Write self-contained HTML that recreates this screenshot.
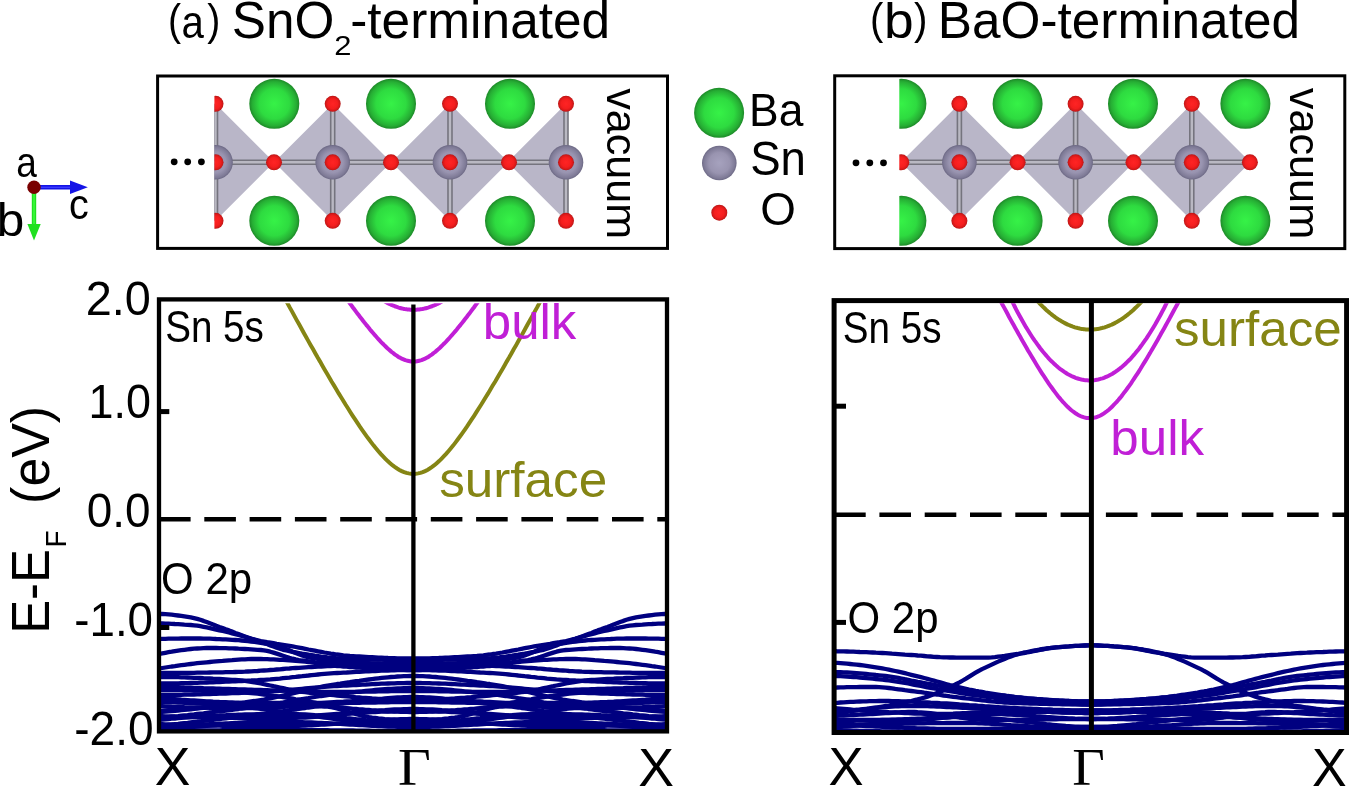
<!DOCTYPE html><html><head><meta charset="utf-8"><style>html,body{margin:0;padding:0;background:#fff;overflow:hidden}svg{display:block;will-change:transform}</style></head><body><svg width="1349" height="786" viewBox="0 0 1349 786"><defs>
<radialGradient id="gBa" cx="50%" cy="50%" r="50%"><stop offset="0" stop-color="#36f247"/><stop offset="0.6" stop-color="#2edb40"/><stop offset="0.88" stop-color="#26ae34"/><stop offset="1" stop-color="#1d8a28"/></radialGradient>
<radialGradient id="gSn" cx="50%" cy="50%" r="50%"><stop offset="0" stop-color="#a6a2be"/><stop offset="0.6" stop-color="#9994b0"/><stop offset="0.9" stop-color="#7e7a96"/><stop offset="1" stop-color="#6c6884"/></radialGradient>
<radialGradient id="gO" cx="50%" cy="50%" r="50%"><stop offset="0" stop-color="#ff2424"/><stop offset="0.6" stop-color="#f41e1e"/><stop offset="0.9" stop-color="#d01818"/><stop offset="1" stop-color="#b01212"/></radialGradient>
<clipPath id="clipA"><rect x="214.4" y="77" width="452" height="170"/></clipPath>
<clipPath id="clipB"><rect x="899.3" y="77" width="444" height="170"/></clipPath>
<clipPath id="plotL"><rect x="160" y="302" width="506" height="428"/></clipPath>
<clipPath id="plotR"><rect x="836" y="303" width="510" height="428"/></clipPath>
<clipPath id="plotLc"><rect x="150" y="303.3" width="520" height="430"/></clipPath>
<clipPath id="plotRc"><rect x="830" y="303.3" width="520" height="430"/></clipPath>
</defs>
<text x="168.05" y="34.77" font-family="Liberation Sans, sans-serif" font-size="44.92" textLength="13.07" lengthAdjust="spacingAndGlyphs" >(</text>
<text x="181.39" y="38.30" font-family="Liberation Sans, sans-serif" font-size="46.30" textLength="22.35" lengthAdjust="spacingAndGlyphs" >a</text>
<text x="207.20" y="34.77" font-family="Liberation Sans, sans-serif" font-size="44.92" textLength="13.07" lengthAdjust="spacingAndGlyphs" >)</text>
<text x="231.79" y="38.30" font-family="Liberation Sans, sans-serif" font-size="51.30" textLength="102.57" lengthAdjust="spacingAndGlyphs" >SnO</text>
<text x="334.15" y="55.20" font-family="Liberation Sans, sans-serif" font-size="27.00" textLength="17.24" lengthAdjust="spacingAndGlyphs" >2</text>
<text x="350.19" y="38.30" font-family="Liberation Sans, sans-serif" font-size="51.30" textLength="260.00" lengthAdjust="spacingAndGlyphs" >-terminated</text>
<text x="870.10" y="34.21" font-family="Liberation Sans, sans-serif" font-size="44.71" textLength="13.32" lengthAdjust="spacingAndGlyphs" >(</text>
<text x="884.13" y="38.30" font-family="Liberation Sans, sans-serif" font-size="50.34" textLength="29.66" lengthAdjust="spacingAndGlyphs" >b</text>
<text x="914.10" y="34.21" font-family="Liberation Sans, sans-serif" font-size="44.71" textLength="13.45" lengthAdjust="spacingAndGlyphs" >)</text>
<text x="937.80" y="38.30" font-family="Liberation Sans, sans-serif" font-size="51.30" textLength="362.18" lengthAdjust="spacingAndGlyphs" >BaO-terminated</text>
<rect x="157.6" y="76" width="509.9" height="172.4" fill="none" stroke="#000" stroke-width="3"/>
<rect x="834.7" y="75.8" width="510.1" height="172.8" fill="none" stroke="#000" stroke-width="3"/>
<g clip-path="url(#clipA)">
<polygon points="215.5,103.8 157.0,162.3 215.5,220.8 274.0,162.3" fill="#b9b6c8"/>
<polygon points="332.7,103.8 274.2,162.3 332.7,220.8 391.2,162.3" fill="#b9b6c8"/>
<polygon points="450,103.8 391.5,162.3 450,220.8 508.5,162.3" fill="#b9b6c8"/>
<polygon points="566,103.8 507.5,162.3 566,220.8" fill="#b9b6c8"/>
<line x1="215.5" y1="103.8" x2="215.5" y2="220.8" stroke="#75747e" stroke-width="5.6"/><line x1="215.5" y1="103.8" x2="215.5" y2="220.8" stroke="#b9b8c2" stroke-width="2.4"/>
<line x1="157.0" y1="162.3" x2="274.0" y2="162.3" stroke="#75747e" stroke-width="5.6"/><line x1="157.0" y1="162.3" x2="274.0" y2="162.3" stroke="#b9b8c2" stroke-width="2.4"/>
<line x1="332.7" y1="103.8" x2="332.7" y2="220.8" stroke="#75747e" stroke-width="5.6"/><line x1="332.7" y1="103.8" x2="332.7" y2="220.8" stroke="#b9b8c2" stroke-width="2.4"/>
<line x1="274.2" y1="162.3" x2="391.2" y2="162.3" stroke="#75747e" stroke-width="5.6"/><line x1="274.2" y1="162.3" x2="391.2" y2="162.3" stroke="#b9b8c2" stroke-width="2.4"/>
<line x1="450" y1="103.8" x2="450" y2="220.8" stroke="#75747e" stroke-width="5.6"/><line x1="450" y1="103.8" x2="450" y2="220.8" stroke="#b9b8c2" stroke-width="2.4"/>
<line x1="391.5" y1="162.3" x2="508.5" y2="162.3" stroke="#75747e" stroke-width="5.6"/><line x1="391.5" y1="162.3" x2="508.5" y2="162.3" stroke="#b9b8c2" stroke-width="2.4"/>
<line x1="566" y1="103.8" x2="566" y2="220.8" stroke="#75747e" stroke-width="5.6"/><line x1="566" y1="103.8" x2="566" y2="220.8" stroke="#b9b8c2" stroke-width="2.4"/>
<line x1="507.5" y1="162.3" x2="566" y2="162.3" stroke="#75747e" stroke-width="5.6"/><line x1="507.5" y1="162.3" x2="566" y2="162.3" stroke="#b9b8c2" stroke-width="2.4"/>
<circle cx="274.3" cy="103.8" r="25.0" fill="url(#gBa)"/>
<circle cx="274.3" cy="220.8" r="25.0" fill="url(#gBa)"/>
<circle cx="391.0" cy="103.8" r="25.0" fill="url(#gBa)"/>
<circle cx="391.0" cy="220.8" r="25.0" fill="url(#gBa)"/>
<circle cx="510.0" cy="103.8" r="25.0" fill="url(#gBa)"/>
<circle cx="510.0" cy="220.8" r="25.0" fill="url(#gBa)"/>
<circle cx="274.0" cy="162.3" r="8.0" fill="url(#gO)"/>
<circle cx="391.0" cy="162.3" r="8.0" fill="url(#gO)"/>
<circle cx="509.0" cy="162.3" r="8.0" fill="url(#gO)"/>
<circle cx="215.5" cy="103.8" r="8.0" fill="url(#gO)"/>
<circle cx="215.5" cy="220.8" r="8.0" fill="url(#gO)"/>
<circle cx="215.5" cy="162.3" r="17.3" fill="url(#gSn)"/>
<circle cx="215.5" cy="162.3" r="8.0" fill="url(#gO)"/>
<circle cx="332.7" cy="103.8" r="8.0" fill="url(#gO)"/>
<circle cx="332.7" cy="220.8" r="8.0" fill="url(#gO)"/>
<circle cx="332.7" cy="162.3" r="17.3" fill="url(#gSn)"/>
<circle cx="332.7" cy="162.3" r="8.0" fill="url(#gO)"/>
<circle cx="450.0" cy="103.8" r="8.0" fill="url(#gO)"/>
<circle cx="450.0" cy="220.8" r="8.0" fill="url(#gO)"/>
<circle cx="450.0" cy="162.3" r="17.3" fill="url(#gSn)"/>
<circle cx="450.0" cy="162.3" r="8.0" fill="url(#gO)"/>
<circle cx="566.0" cy="103.8" r="8.0" fill="url(#gO)"/>
<circle cx="566.0" cy="220.8" r="8.0" fill="url(#gO)"/>
<circle cx="566.0" cy="162.3" r="17.3" fill="url(#gSn)"/>
<circle cx="566.0" cy="162.3" r="8.0" fill="url(#gO)"/>
</g>
<g clip-path="url(#clipB)">
<polygon points="959.4,103.8 900.9,162.3 959.4,220.8 1017.9,162.3" fill="#b9b6c8"/>
<polygon points="1075.6,103.8 1017.0999999999999,162.3 1075.6,220.8 1134.1,162.3" fill="#b9b6c8"/>
<polygon points="1191.8,103.8 1133.3,162.3 1191.8,220.8 1250.3,162.3" fill="#b9b6c8"/>
<line x1="959.4" y1="103.8" x2="959.4" y2="220.8" stroke="#75747e" stroke-width="5.6"/><line x1="959.4" y1="103.8" x2="959.4" y2="220.8" stroke="#b9b8c2" stroke-width="2.4"/>
<line x1="900.9" y1="162.3" x2="1017.9" y2="162.3" stroke="#75747e" stroke-width="5.6"/><line x1="900.9" y1="162.3" x2="1017.9" y2="162.3" stroke="#b9b8c2" stroke-width="2.4"/>
<line x1="1075.6" y1="103.8" x2="1075.6" y2="220.8" stroke="#75747e" stroke-width="5.6"/><line x1="1075.6" y1="103.8" x2="1075.6" y2="220.8" stroke="#b9b8c2" stroke-width="2.4"/>
<line x1="1017.0999999999999" y1="162.3" x2="1134.1" y2="162.3" stroke="#75747e" stroke-width="5.6"/><line x1="1017.0999999999999" y1="162.3" x2="1134.1" y2="162.3" stroke="#b9b8c2" stroke-width="2.4"/>
<line x1="1191.8" y1="103.8" x2="1191.8" y2="220.8" stroke="#75747e" stroke-width="5.6"/><line x1="1191.8" y1="103.8" x2="1191.8" y2="220.8" stroke="#b9b8c2" stroke-width="2.4"/>
<line x1="1133.3" y1="162.3" x2="1250.3" y2="162.3" stroke="#75747e" stroke-width="5.6"/><line x1="1133.3" y1="162.3" x2="1250.3" y2="162.3" stroke="#b9b8c2" stroke-width="2.4"/>
<circle cx="901.4" cy="103.8" r="25.0" fill="url(#gBa)"/>
<circle cx="901.4" cy="220.8" r="25.0" fill="url(#gBa)"/>
<circle cx="1017.6" cy="103.8" r="25.0" fill="url(#gBa)"/>
<circle cx="1017.6" cy="220.8" r="25.0" fill="url(#gBa)"/>
<circle cx="1133.0" cy="103.8" r="25.0" fill="url(#gBa)"/>
<circle cx="1133.0" cy="220.8" r="25.0" fill="url(#gBa)"/>
<circle cx="1245.4" cy="103.8" r="25.0" fill="url(#gBa)"/>
<circle cx="1245.4" cy="220.8" r="25.0" fill="url(#gBa)"/>
<circle cx="901.3" cy="162.3" r="8.0" fill="url(#gO)"/>
<circle cx="1017.6" cy="162.3" r="8.0" fill="url(#gO)"/>
<circle cx="1133.5" cy="162.3" r="8.0" fill="url(#gO)"/>
<circle cx="1249.9" cy="162.3" r="8.0" fill="url(#gO)"/>
<circle cx="959.4" cy="103.8" r="8.0" fill="url(#gO)"/>
<circle cx="959.4" cy="220.8" r="8.0" fill="url(#gO)"/>
<circle cx="959.4" cy="162.3" r="17.3" fill="url(#gSn)"/>
<circle cx="959.4" cy="162.3" r="8.0" fill="url(#gO)"/>
<circle cx="1075.6" cy="103.8" r="8.0" fill="url(#gO)"/>
<circle cx="1075.6" cy="220.8" r="8.0" fill="url(#gO)"/>
<circle cx="1075.6" cy="162.3" r="17.3" fill="url(#gSn)"/>
<circle cx="1075.6" cy="162.3" r="8.0" fill="url(#gO)"/>
<circle cx="1191.8" cy="103.8" r="8.0" fill="url(#gO)"/>
<circle cx="1191.8" cy="220.8" r="8.0" fill="url(#gO)"/>
<circle cx="1191.8" cy="162.3" r="17.3" fill="url(#gSn)"/>
<circle cx="1191.8" cy="162.3" r="8.0" fill="url(#gO)"/>
</g>
<circle cx="174.2" cy="161.8" r="3.4" fill="#000"/>
<circle cx="187.7" cy="161.8" r="3.4" fill="#000"/>
<circle cx="201.4" cy="161.8" r="3.4" fill="#000"/>
<circle cx="856" cy="162.8" r="3.4" fill="#000"/>
<circle cx="869.8" cy="162.8" r="3.4" fill="#000"/>
<circle cx="883.5" cy="162.8" r="3.4" fill="#000"/>
<g transform="rotate(90)"><text x="88.18" y="-606.60" font-family="Liberation Sans, sans-serif" font-size="42.78" textLength="150.97" lengthAdjust="spacingAndGlyphs" >vacuum</text></g>
<g transform="rotate(90)"><text x="87.78" y="-1289.60" font-family="Liberation Sans, sans-serif" font-size="42.78" textLength="151.38" lengthAdjust="spacingAndGlyphs" >vacuum</text></g>
<circle cx="719.1" cy="112.8" r="25.0" fill="url(#gBa)"/>
<circle cx="719.3" cy="163.0" r="17.3" fill="url(#gSn)"/>
<circle cx="719.3" cy="212.7" r="8.0" fill="url(#gO)"/>
<text x="749.05" y="126.00" font-family="Liberation Sans, sans-serif" font-size="46.96" textLength="54.29" lengthAdjust="spacingAndGlyphs" >Ba</text>
<text x="750.15" y="175.40" font-family="Liberation Sans, sans-serif" font-size="47.43" textLength="55.76" lengthAdjust="spacingAndGlyphs" >Sn</text>
<text x="760.14" y="225.40" font-family="Liberation Sans, sans-serif" font-size="46.57" textLength="35.65" lengthAdjust="spacingAndGlyphs" >O</text>
<line x1="34" y1="187.3" x2="72" y2="187.3" stroke="#1414e6" stroke-width="4.4"/>
<line x1="40" y1="187.3" x2="72" y2="187.3" stroke="#3a3aff" stroke-width="1.4"/>
<polygon points="70,180.6 87.8,187.3 70,194" fill="#1414e6"/>
<line x1="34" y1="187.3" x2="34" y2="226" stroke="#20e020" stroke-width="4.4"/>
<line x1="34" y1="192" x2="34" y2="226" stroke="#40ff40" stroke-width="1.4"/>
<polygon points="27.4,223.9 40.7,223.9 34,240.4" fill="#20e020"/>
<circle cx="34" cy="187.3" r="6.7" fill="#7a0000"/>
<text x="16.32" y="176.80" font-family="Liberation Sans, sans-serif" font-size="42.41" textLength="20.63" lengthAdjust="spacingAndGlyphs" >a</text>
<text x="-3.22" y="235.60" font-family="Liberation Sans, sans-serif" font-size="46.07" textLength="27.56" lengthAdjust="spacingAndGlyphs" >b</text>
<text x="69.02" y="219.00" font-family="Liberation Sans, sans-serif" font-size="42.04" textLength="19.77" lengthAdjust="spacingAndGlyphs" >c</text>
<g clip-path="url(#plotL)" fill="none" stroke-linejoin="round">
<path d="M159.0,614.0 L162.2,614.0 L165.4,614.2 L168.5,614.4 L171.7,614.7 L174.9,615.1 L178.1,615.5 L181.3,615.9 L184.4,616.4 L187.6,616.9 L190.8,617.4 L194.0,618.1 L197.2,618.9 L200.3,619.8 L203.5,620.9 L206.7,622.1 L209.9,623.3 L213.1,624.5 L216.2,625.8 L219.4,627.0 L222.6,628.1 L225.8,629.3 L229.0,630.4 L232.1,631.6 L235.3,632.9 L238.5,634.1 L241.7,635.3 L244.9,636.5 L248.0,637.6 L251.2,638.6 L254.4,639.5 L257.6,640.3 L260.8,641.0 L263.9,641.6 L267.1,642.2 L270.3,642.7 L273.5,643.2 L276.7,643.8 L279.8,644.3 L283.0,644.8 L286.2,645.3 L289.4,645.8 L292.6,646.4 L295.7,647.0 L298.9,647.6 L302.1,648.2 L305.3,648.8 L308.5,649.5 L311.6,650.1 L314.8,650.7 L318.0,651.3 L321.2,651.9 L324.4,652.5 L327.5,653.0 L330.7,653.6 L333.9,654.0 L337.1,654.5 L340.3,654.9 L343.4,655.3 L346.6,655.6 L349.8,655.9 L353.0,656.1 L356.2,656.3 L359.3,656.5 L362.5,656.7 L365.7,656.9 L368.9,657.1 L372.1,657.2 L375.2,657.4 L378.4,657.6 L381.6,657.7 L384.8,657.8 L388.0,658.0 L391.1,658.1 L394.3,658.2 L397.5,658.3 L400.7,658.4 L403.9,658.4 L407.0,658.5 L410.2,658.5 L413.4,658.5 L416.6,658.5 L419.8,658.5 L422.9,658.4 L426.1,658.4 L429.3,658.3 L432.5,658.2 L435.7,658.1 L438.8,658.0 L442.0,657.8 L445.2,657.7 L448.4,657.6 L451.6,657.4 L454.7,657.2 L457.9,657.1 L461.1,656.9 L464.3,656.7 L467.5,656.5 L470.6,656.3 L473.8,656.1 L477.0,655.9 L480.2,655.6 L483.4,655.3 L486.5,654.9 L489.7,654.5 L492.9,654.0 L496.1,653.6 L499.3,653.0 L502.4,652.5 L505.6,651.9 L508.8,651.3 L512.0,650.7 L515.2,650.1 L518.3,649.5 L521.5,648.8 L524.7,648.2 L527.9,647.6 L531.1,647.0 L534.2,646.4 L537.4,645.8 L540.6,645.3 L543.8,644.8 L547.0,644.3 L550.1,643.8 L553.3,643.2 L556.5,642.7 L559.7,642.2 L562.9,641.6 L566.0,641.0 L569.2,640.3 L572.4,639.5 L575.6,638.6 L578.8,637.6 L581.9,636.5 L585.1,635.3 L588.3,634.1 L591.5,632.9 L594.7,631.6 L597.8,630.4 L601.0,629.3 L604.2,628.1 L607.4,627.0 L610.6,625.8 L613.7,624.5 L616.9,623.3 L620.1,622.1 L623.3,620.9 L626.5,619.8 L629.6,618.9 L632.8,618.1 L636.0,617.4 L639.2,616.9 L642.4,616.4 L645.5,615.9 L648.7,615.5 L651.9,615.1 L655.1,614.7 L658.3,614.4 L661.4,614.2 L664.6,614.0 L667.8,614.0" stroke="#000080" stroke-width="4.3"/>
<path d="M159.0,623.5 L162.2,623.5 L165.4,623.6 L168.5,623.7 L171.7,623.8 L174.9,624.0 L178.1,624.1 L181.3,624.3 L184.4,624.6 L187.6,624.8 L190.8,625.0 L194.0,625.3 L197.2,625.7 L200.3,626.2 L203.5,626.8 L206.7,627.4 L209.9,628.1 L213.1,628.8 L216.2,629.6 L219.4,630.3 L222.6,631.0 L225.8,631.7 L229.0,632.5 L232.1,633.3 L235.3,634.1 L238.5,635.0 L241.7,635.9 L244.9,636.8 L248.0,637.7 L251.2,638.7 L254.4,639.6 L257.6,640.6 L260.8,641.7 L263.9,642.9 L267.1,644.1 L270.3,645.4 L273.5,646.6 L276.7,647.8 L279.8,648.8 L283.0,649.8 L286.2,650.5 L289.4,651.1 L292.6,651.8 L295.7,652.4 L298.9,653.0 L302.1,653.6 L305.3,654.1 L308.5,654.7 L311.6,655.2 L314.8,655.7 L318.0,656.1 L321.2,656.6 L324.4,657.0 L327.5,657.4 L330.7,657.7 L333.9,658.0 L337.1,658.3 L340.3,658.5 L343.4,658.7 L346.6,658.9 L349.8,659.0 L353.0,659.1 L356.2,659.2 L359.3,659.3 L362.5,659.3 L365.7,659.4 L368.9,659.5 L372.1,659.5 L375.2,659.6 L378.4,659.7 L381.6,659.7 L384.8,659.8 L388.0,659.8 L391.1,659.9 L394.3,659.9 L397.5,659.9 L400.7,660.0 L403.9,660.0 L407.0,660.0 L410.2,660.0 L413.4,660.0 L416.6,660.0 L419.8,660.0 L422.9,660.0 L426.1,660.0 L429.3,659.9 L432.5,659.9 L435.7,659.9 L438.8,659.8 L442.0,659.8 L445.2,659.7 L448.4,659.7 L451.6,659.6 L454.7,659.5 L457.9,659.5 L461.1,659.4 L464.3,659.3 L467.5,659.3 L470.6,659.2 L473.8,659.1 L477.0,659.0 L480.2,658.9 L483.4,658.7 L486.5,658.5 L489.7,658.3 L492.9,658.0 L496.1,657.7 L499.3,657.4 L502.4,657.0 L505.6,656.6 L508.8,656.1 L512.0,655.7 L515.2,655.2 L518.3,654.7 L521.5,654.1 L524.7,653.6 L527.9,653.0 L531.1,652.4 L534.2,651.8 L537.4,651.1 L540.6,650.5 L543.8,649.8 L547.0,648.8 L550.1,647.8 L553.3,646.6 L556.5,645.4 L559.7,644.1 L562.9,642.9 L566.0,641.7 L569.2,640.6 L572.4,639.6 L575.6,638.7 L578.8,637.7 L581.9,636.8 L585.1,635.9 L588.3,635.0 L591.5,634.1 L594.7,633.3 L597.8,632.5 L601.0,631.7 L604.2,631.0 L607.4,630.3 L610.6,629.6 L613.7,628.8 L616.9,628.1 L620.1,627.4 L623.3,626.8 L626.5,626.2 L629.6,625.7 L632.8,625.3 L636.0,625.0 L639.2,624.8 L642.4,624.6 L645.5,624.3 L648.7,624.1 L651.9,624.0 L655.1,623.8 L658.3,623.7 L661.4,623.6 L664.6,623.5 L667.8,623.5" stroke="#000080" stroke-width="4.3"/>
<path d="M159.0,639.0 L162.2,638.9 L165.4,638.8 L168.5,638.7 L171.7,638.6 L174.9,638.6 L178.1,638.6 L181.3,638.5 L184.4,638.5 L187.6,638.5 L190.8,638.5 L194.0,638.5 L197.2,638.5 L200.3,638.5 L203.5,638.6 L206.7,638.6 L209.9,638.7 L213.1,638.8 L216.2,639.0 L219.4,639.1 L222.6,639.3 L225.8,639.4 L229.0,639.6 L232.1,639.8 L235.3,640.0 L238.5,640.2 L241.7,640.5 L244.9,640.8 L248.0,641.1 L251.2,641.5 L254.4,641.9 L257.6,642.3 L260.8,642.8 L263.9,643.3 L267.1,643.8 L270.3,644.4 L273.5,645.0 L276.7,645.7 L279.8,646.7 L283.0,647.8 L286.2,649.0 L289.4,650.3 L292.6,651.7 L295.7,653.0 L298.9,654.3 L302.1,655.5 L305.3,656.5 L308.5,657.4 L311.6,658.0 L314.8,658.5 L318.0,659.0 L321.2,659.4 L324.4,659.8 L327.5,660.2 L330.7,660.6 L333.9,661.0 L337.1,661.3 L340.3,661.6 L343.4,661.9 L346.6,662.1 L349.8,662.4 L353.0,662.6 L356.2,662.7 L359.3,662.9 L362.5,663.0 L365.7,663.1 L368.9,663.2 L372.1,663.3 L375.2,663.4 L378.4,663.5 L381.6,663.6 L384.8,663.6 L388.0,663.7 L391.1,663.8 L394.3,663.8 L397.5,663.9 L400.7,663.9 L403.9,664.0 L407.0,664.0 L410.2,664.0 L413.4,664.0 L416.6,664.0 L419.8,664.0 L422.9,664.0 L426.1,663.9 L429.3,663.9 L432.5,663.8 L435.7,663.8 L438.8,663.7 L442.0,663.6 L445.2,663.6 L448.4,663.5 L451.6,663.4 L454.7,663.3 L457.9,663.2 L461.1,663.1 L464.3,663.0 L467.5,662.9 L470.6,662.7 L473.8,662.6 L477.0,662.4 L480.2,662.1 L483.4,661.9 L486.5,661.6 L489.7,661.3 L492.9,661.0 L496.1,660.6 L499.3,660.2 L502.4,659.8 L505.6,659.4 L508.8,659.0 L512.0,658.5 L515.2,658.0 L518.3,657.4 L521.5,656.5 L524.7,655.5 L527.9,654.3 L531.1,653.0 L534.2,651.7 L537.4,650.3 L540.6,649.0 L543.8,647.8 L547.0,646.7 L550.1,645.7 L553.3,645.0 L556.5,644.4 L559.7,643.8 L562.9,643.3 L566.0,642.8 L569.2,642.3 L572.4,641.9 L575.6,641.5 L578.8,641.1 L581.9,640.8 L585.1,640.5 L588.3,640.2 L591.5,640.0 L594.7,639.8 L597.8,639.6 L601.0,639.4 L604.2,639.3 L607.4,639.1 L610.6,639.0 L613.7,638.8 L616.9,638.7 L620.1,638.6 L623.3,638.6 L626.5,638.5 L629.6,638.5 L632.8,638.5 L636.0,638.5 L639.2,638.5 L642.4,638.5 L645.5,638.5 L648.7,638.6 L651.9,638.6 L655.1,638.6 L658.3,638.7 L661.4,638.8 L664.6,638.9 L667.8,639.0" stroke="#000080" stroke-width="4.3"/>
<path d="M159.0,654.0 L162.2,653.4 L165.4,652.8 L168.5,652.2 L171.7,651.7 L174.9,651.1 L178.1,650.6 L181.3,650.2 L184.4,649.8 L187.6,649.4 L190.8,649.0 L194.0,648.7 L197.2,648.5 L200.3,648.3 L203.5,648.1 L206.7,648.0 L209.9,648.0 L213.1,648.0 L216.2,648.0 L219.4,648.1 L222.6,648.1 L225.8,648.2 L229.0,648.3 L232.1,648.4 L235.3,648.5 L238.5,648.7 L241.7,648.8 L244.9,649.0 L248.0,649.2 L251.2,649.4 L254.4,649.6 L257.6,649.8 L260.8,650.0 L263.9,650.3 L267.1,650.9 L270.3,651.7 L273.5,652.6 L276.7,653.6 L279.8,654.6 L283.0,655.7 L286.2,656.8 L289.4,657.8 L292.6,658.7 L295.7,659.4 L298.9,660.0 L302.1,660.5 L305.3,660.9 L308.5,661.3 L311.6,661.7 L314.8,662.1 L318.0,662.4 L321.2,662.7 L324.4,663.0 L327.5,663.3 L330.7,663.6 L333.9,663.8 L337.1,664.0 L340.3,664.2 L343.4,664.4 L346.6,664.6 L349.8,664.8 L353.0,664.9 L356.2,665.1 L359.3,665.3 L362.5,665.5 L365.7,665.6 L368.9,665.8 L372.1,665.9 L375.2,666.1 L378.4,666.2 L381.6,666.3 L384.8,666.5 L388.0,666.6 L391.1,666.7 L394.3,666.7 L397.5,666.8 L400.7,666.9 L403.9,666.9 L407.0,667.0 L410.2,667.0 L413.4,667.0 L416.6,667.0 L419.8,667.0 L422.9,666.9 L426.1,666.9 L429.3,666.8 L432.5,666.7 L435.7,666.7 L438.8,666.6 L442.0,666.5 L445.2,666.3 L448.4,666.2 L451.6,666.1 L454.7,665.9 L457.9,665.8 L461.1,665.6 L464.3,665.5 L467.5,665.3 L470.6,665.1 L473.8,664.9 L477.0,664.8 L480.2,664.6 L483.4,664.4 L486.5,664.2 L489.7,664.0 L492.9,663.8 L496.1,663.6 L499.3,663.3 L502.4,663.0 L505.6,662.7 L508.8,662.4 L512.0,662.1 L515.2,661.7 L518.3,661.3 L521.5,660.9 L524.7,660.5 L527.9,660.0 L531.1,659.4 L534.2,658.7 L537.4,657.8 L540.6,656.8 L543.8,655.7 L547.0,654.6 L550.1,653.6 L553.3,652.6 L556.5,651.7 L559.7,650.9 L562.9,650.3 L566.0,650.0 L569.2,649.8 L572.4,649.6 L575.6,649.4 L578.8,649.2 L581.9,649.0 L585.1,648.8 L588.3,648.7 L591.5,648.5 L594.7,648.4 L597.8,648.3 L601.0,648.2 L604.2,648.1 L607.4,648.1 L610.6,648.0 L613.7,648.0 L616.9,648.0 L620.1,648.0 L623.3,648.1 L626.5,648.3 L629.6,648.5 L632.8,648.7 L636.0,649.0 L639.2,649.4 L642.4,649.8 L645.5,650.2 L648.7,650.6 L651.9,651.1 L655.1,651.7 L658.3,652.2 L661.4,652.8 L664.6,653.4 L667.8,654.0" stroke="#000080" stroke-width="4.3"/>
<path d="M159.0,668.5 L162.2,668.0 L165.4,667.5 L168.5,667.0 L171.7,666.5 L174.9,666.1 L178.1,665.6 L181.3,665.2 L184.4,664.8 L187.6,664.4 L190.8,664.0 L194.0,663.6 L197.2,663.2 L200.3,662.9 L203.5,662.6 L206.7,662.3 L209.9,662.0 L213.1,661.7 L216.2,661.4 L219.4,661.1 L222.6,660.9 L225.8,660.6 L229.0,660.3 L232.1,660.1 L235.3,659.8 L238.5,659.6 L241.7,659.4 L244.9,659.3 L248.0,659.1 L251.2,659.0 L254.4,659.0 L257.6,659.0 L260.8,659.0 L263.9,659.1 L267.1,659.2 L270.3,659.3 L273.5,659.4 L276.7,659.6 L279.8,659.8 L283.0,659.9 L286.2,660.1 L289.4,660.4 L292.6,660.6 L295.7,660.8 L298.9,661.0 L302.1,661.3 L305.3,661.6 L308.5,662.0 L311.6,662.5 L314.8,663.0 L318.0,663.5 L321.2,664.0 L324.4,664.5 L327.5,664.9 L330.7,665.3 L333.9,665.7 L337.1,666.0 L340.3,666.2 L343.4,666.5 L346.6,666.7 L349.8,667.0 L353.0,667.2 L356.2,667.5 L359.3,667.7 L362.5,667.9 L365.7,668.1 L368.9,668.4 L372.1,668.6 L375.2,668.8 L378.4,668.9 L381.6,669.1 L384.8,669.3 L388.0,669.4 L391.1,669.5 L394.3,669.7 L397.5,669.8 L400.7,669.8 L403.9,669.9 L407.0,670.0 L410.2,670.0 L413.4,670.0 L416.6,670.0 L419.8,670.0 L422.9,669.9 L426.1,669.8 L429.3,669.8 L432.5,669.7 L435.7,669.5 L438.8,669.4 L442.0,669.3 L445.2,669.1 L448.4,668.9 L451.6,668.8 L454.7,668.6 L457.9,668.4 L461.1,668.1 L464.3,667.9 L467.5,667.7 L470.6,667.5 L473.8,667.2 L477.0,667.0 L480.2,666.7 L483.4,666.5 L486.5,666.2 L489.7,666.0 L492.9,665.7 L496.1,665.3 L499.3,664.9 L502.4,664.5 L505.6,664.0 L508.8,663.5 L512.0,663.0 L515.2,662.5 L518.3,662.0 L521.5,661.6 L524.7,661.3 L527.9,661.0 L531.1,660.8 L534.2,660.6 L537.4,660.4 L540.6,660.1 L543.8,659.9 L547.0,659.8 L550.1,659.6 L553.3,659.4 L556.5,659.3 L559.7,659.2 L562.9,659.1 L566.0,659.0 L569.2,659.0 L572.4,659.0 L575.6,659.0 L578.8,659.1 L581.9,659.3 L585.1,659.4 L588.3,659.6 L591.5,659.8 L594.7,660.1 L597.8,660.3 L601.0,660.6 L604.2,660.9 L607.4,661.1 L610.6,661.4 L613.7,661.7 L616.9,662.0 L620.1,662.3 L623.3,662.6 L626.5,662.9 L629.6,663.2 L632.8,663.6 L636.0,664.0 L639.2,664.4 L642.4,664.8 L645.5,665.2 L648.7,665.6 L651.9,666.1 L655.1,666.5 L658.3,667.0 L661.4,667.5 L664.6,668.0 L667.8,668.5" stroke="#000080" stroke-width="4.3"/>
<path d="M159.0,673.0 L162.2,673.0 L165.4,673.0 L168.5,673.0 L171.7,673.0 L174.9,672.9 L178.1,672.9 L181.3,672.9 L184.4,672.9 L187.6,672.8 L190.8,672.8 L194.0,672.8 L197.2,672.7 L200.3,672.7 L203.5,672.6 L206.7,672.6 L209.9,672.5 L213.1,672.4 L216.2,672.4 L219.4,672.3 L222.6,672.3 L225.8,672.2 L229.0,672.1 L232.1,672.1 L235.3,672.0 L238.5,671.9 L241.7,671.8 L244.9,671.7 L248.0,671.5 L251.2,671.4 L254.4,671.2 L257.6,671.0 L260.8,670.7 L263.9,670.5 L267.1,670.3 L270.3,670.0 L273.5,669.8 L276.7,669.5 L279.8,669.3 L283.0,669.0 L286.2,668.7 L289.4,668.5 L292.6,668.2 L295.7,668.0 L298.9,667.8 L302.1,667.6 L305.3,667.4 L308.5,667.2 L311.6,667.0 L314.8,666.8 L318.0,666.7 L321.2,666.5 L324.4,666.3 L327.5,666.2 L330.7,666.0 L333.9,665.8 L337.1,665.7 L340.3,665.5 L343.4,665.3 L346.6,665.2 L349.8,665.0 L353.0,664.8 L356.2,664.7 L359.3,664.5 L362.5,664.4 L365.7,664.2 L368.9,664.1 L372.1,663.9 L375.2,663.8 L378.4,663.7 L381.6,663.6 L384.8,663.5 L388.0,663.4 L391.1,663.3 L394.3,663.2 L397.5,663.2 L400.7,663.1 L403.9,663.1 L407.0,663.0 L410.2,663.0 L413.4,663.0 L416.6,663.0 L419.8,663.0 L422.9,663.1 L426.1,663.1 L429.3,663.2 L432.5,663.2 L435.7,663.3 L438.8,663.4 L442.0,663.5 L445.2,663.6 L448.4,663.7 L451.6,663.8 L454.7,663.9 L457.9,664.1 L461.1,664.2 L464.3,664.4 L467.5,664.5 L470.6,664.7 L473.8,664.8 L477.0,665.0 L480.2,665.2 L483.4,665.3 L486.5,665.5 L489.7,665.7 L492.9,665.8 L496.1,666.0 L499.3,666.2 L502.4,666.3 L505.6,666.5 L508.8,666.7 L512.0,666.8 L515.2,667.0 L518.3,667.2 L521.5,667.4 L524.7,667.6 L527.9,667.8 L531.1,668.0 L534.2,668.2 L537.4,668.5 L540.6,668.7 L543.8,669.0 L547.0,669.3 L550.1,669.5 L553.3,669.8 L556.5,670.0 L559.7,670.3 L562.9,670.5 L566.0,670.7 L569.2,671.0 L572.4,671.2 L575.6,671.4 L578.8,671.5 L581.9,671.7 L585.1,671.8 L588.3,671.9 L591.5,672.0 L594.7,672.1 L597.8,672.1 L601.0,672.2 L604.2,672.3 L607.4,672.3 L610.6,672.4 L613.7,672.4 L616.9,672.5 L620.1,672.6 L623.3,672.6 L626.5,672.7 L629.6,672.7 L632.8,672.8 L636.0,672.8 L639.2,672.8 L642.4,672.9 L645.5,672.9 L648.7,672.9 L651.9,672.9 L655.1,673.0 L658.3,673.0 L661.4,673.0 L664.6,673.0 L667.8,673.0" stroke="#000080" stroke-width="4.3"/>
<path d="M159.0,683.5 L162.2,683.5 L165.4,683.5 L168.5,683.4 L171.7,683.4 L174.9,683.4 L178.1,683.3 L181.3,683.2 L184.4,683.2 L187.6,683.1 L190.8,683.0 L194.0,682.9 L197.2,682.8 L200.3,682.7 L203.5,682.6 L206.7,682.5 L209.9,682.4 L213.1,682.3 L216.2,682.1 L219.4,682.0 L222.6,681.9 L225.8,681.7 L229.0,681.6 L232.1,681.4 L235.3,681.3 L238.5,681.1 L241.7,681.0 L244.9,680.8 L248.0,680.6 L251.2,680.5 L254.4,680.3 L257.6,680.2 L260.8,680.0 L263.9,679.8 L267.1,679.6 L270.3,679.4 L273.5,679.1 L276.7,678.8 L279.8,678.6 L283.0,678.2 L286.2,677.9 L289.4,677.6 L292.6,677.2 L295.7,676.9 L298.9,676.5 L302.1,676.2 L305.3,675.8 L308.5,675.5 L311.6,675.1 L314.8,674.8 L318.0,674.5 L321.2,674.2 L324.4,673.9 L327.5,673.6 L330.7,673.4 L333.9,673.2 L337.1,673.0 L340.3,672.8 L343.4,672.6 L346.6,672.5 L349.8,672.3 L353.0,672.1 L356.2,671.9 L359.3,671.8 L362.5,671.6 L365.7,671.4 L368.9,671.3 L372.1,671.1 L375.2,671.0 L378.4,670.8 L381.6,670.7 L384.8,670.6 L388.0,670.5 L391.1,670.4 L394.3,670.3 L397.5,670.2 L400.7,670.1 L403.9,670.1 L407.0,670.0 L410.2,670.0 L413.4,670.0 L416.6,670.0 L419.8,670.0 L422.9,670.1 L426.1,670.1 L429.3,670.2 L432.5,670.3 L435.7,670.4 L438.8,670.5 L442.0,670.6 L445.2,670.7 L448.4,670.8 L451.6,671.0 L454.7,671.1 L457.9,671.3 L461.1,671.4 L464.3,671.6 L467.5,671.8 L470.6,671.9 L473.8,672.1 L477.0,672.3 L480.2,672.5 L483.4,672.6 L486.5,672.8 L489.7,673.0 L492.9,673.2 L496.1,673.4 L499.3,673.6 L502.4,673.9 L505.6,674.2 L508.8,674.5 L512.0,674.8 L515.2,675.1 L518.3,675.5 L521.5,675.8 L524.7,676.2 L527.9,676.5 L531.1,676.9 L534.2,677.2 L537.4,677.6 L540.6,677.9 L543.8,678.2 L547.0,678.6 L550.1,678.8 L553.3,679.1 L556.5,679.4 L559.7,679.6 L562.9,679.8 L566.0,680.0 L569.2,680.2 L572.4,680.3 L575.6,680.5 L578.8,680.6 L581.9,680.8 L585.1,681.0 L588.3,681.1 L591.5,681.3 L594.7,681.4 L597.8,681.6 L601.0,681.7 L604.2,681.9 L607.4,682.0 L610.6,682.1 L613.7,682.3 L616.9,682.4 L620.1,682.5 L623.3,682.6 L626.5,682.7 L629.6,682.8 L632.8,682.9 L636.0,683.0 L639.2,683.1 L642.4,683.2 L645.5,683.2 L648.7,683.3 L651.9,683.4 L655.1,683.4 L658.3,683.4 L661.4,683.5 L664.6,683.5 L667.8,683.5" stroke="#000080" stroke-width="4.3"/>
<path d="M159.0,686.5 L162.2,686.6 L165.4,686.7 L168.5,686.9 L171.7,687.0 L174.9,687.1 L178.1,687.2 L181.3,687.3 L184.4,687.5 L187.6,687.6 L190.8,687.7 L194.0,687.8 L197.2,687.9 L200.3,688.0 L203.5,688.2 L206.7,688.3 L209.9,688.4 L213.1,688.5 L216.2,688.6 L219.4,688.7 L222.6,688.8 L225.8,688.9 L229.0,689.0 L232.1,689.1 L235.3,689.2 L238.5,689.3 L241.7,689.4 L244.9,689.5 L248.0,689.6 L251.2,689.7 L254.4,689.8 L257.6,689.9 L260.8,690.0 L263.9,690.1 L267.1,690.2 L270.3,690.3 L273.5,690.4 L276.7,690.5 L279.8,690.6 L283.0,690.7 L286.2,690.9 L289.4,691.0 L292.6,691.1 L295.7,691.2 L298.9,691.3 L302.1,691.4 L305.3,691.5 L308.5,691.6 L311.6,691.6 L314.8,691.7 L318.0,691.8 L321.2,691.9 L324.4,691.9 L327.5,691.9 L330.7,692.0 L333.9,692.0 L337.1,692.0 L340.3,692.0 L343.4,692.0 L346.6,692.0 L349.8,691.9 L353.0,691.9 L356.2,691.8 L359.3,691.8 L362.5,691.7 L365.7,691.7 L368.9,691.6 L372.1,691.6 L375.2,691.5 L378.4,691.4 L381.6,691.4 L384.8,691.3 L388.0,691.3 L391.1,691.2 L394.3,691.2 L397.5,691.1 L400.7,691.1 L403.9,691.0 L407.0,691.0 L410.2,691.0 L413.4,691.0 L416.6,691.0 L419.8,691.0 L422.9,691.0 L426.1,691.1 L429.3,691.1 L432.5,691.2 L435.7,691.2 L438.8,691.3 L442.0,691.3 L445.2,691.4 L448.4,691.4 L451.6,691.5 L454.7,691.6 L457.9,691.6 L461.1,691.7 L464.3,691.7 L467.5,691.8 L470.6,691.8 L473.8,691.9 L477.0,691.9 L480.2,692.0 L483.4,692.0 L486.5,692.0 L489.7,692.0 L492.9,692.0 L496.1,692.0 L499.3,691.9 L502.4,691.9 L505.6,691.9 L508.8,691.8 L512.0,691.7 L515.2,691.6 L518.3,691.6 L521.5,691.5 L524.7,691.4 L527.9,691.3 L531.1,691.2 L534.2,691.1 L537.4,691.0 L540.6,690.9 L543.8,690.7 L547.0,690.6 L550.1,690.5 L553.3,690.4 L556.5,690.3 L559.7,690.2 L562.9,690.1 L566.0,690.0 L569.2,689.9 L572.4,689.8 L575.6,689.7 L578.8,689.6 L581.9,689.5 L585.1,689.4 L588.3,689.3 L591.5,689.2 L594.7,689.1 L597.8,689.0 L601.0,688.9 L604.2,688.8 L607.4,688.7 L610.6,688.6 L613.7,688.5 L616.9,688.4 L620.1,688.3 L623.3,688.2 L626.5,688.0 L629.6,687.9 L632.8,687.8 L636.0,687.7 L639.2,687.6 L642.4,687.5 L645.5,687.3 L648.7,687.2 L651.9,687.1 L655.1,687.0 L658.3,686.9 L661.4,686.7 L664.6,686.6 L667.8,686.5" stroke="#000080" stroke-width="4.3"/>
<path d="M159.0,695.0 L162.2,695.0 L165.4,695.0 L168.5,695.0 L171.7,694.9 L174.9,694.9 L178.1,694.8 L181.3,694.8 L184.4,694.7 L187.6,694.7 L190.8,694.6 L194.0,694.5 L197.2,694.4 L200.3,694.3 L203.5,694.2 L206.7,694.1 L209.9,694.0 L213.1,693.9 L216.2,693.8 L219.4,693.7 L222.6,693.6 L225.8,693.5 L229.0,693.3 L232.1,693.2 L235.3,693.1 L238.5,693.0 L241.7,692.8 L244.9,692.7 L248.0,692.6 L251.2,692.4 L254.4,692.3 L257.6,692.1 L260.8,692.0 L263.9,691.8 L267.1,691.7 L270.3,691.5 L273.5,691.3 L276.7,691.0 L279.8,690.8 L283.0,690.5 L286.2,690.2 L289.4,690.0 L292.6,689.7 L295.7,689.4 L298.9,689.1 L302.1,688.8 L305.3,688.5 L308.5,688.2 L311.6,687.9 L314.8,687.6 L318.0,687.3 L321.2,687.1 L324.4,686.8 L327.5,686.6 L330.7,686.4 L333.9,686.2 L337.1,686.0 L340.3,685.8 L343.4,685.7 L346.6,685.5 L349.8,685.3 L353.0,685.1 L356.2,685.0 L359.3,684.8 L362.5,684.6 L365.7,684.5 L368.9,684.3 L372.1,684.1 L375.2,684.0 L378.4,683.9 L381.6,683.7 L384.8,683.6 L388.0,683.5 L391.1,683.4 L394.3,683.3 L397.5,683.2 L400.7,683.1 L403.9,683.1 L407.0,683.0 L410.2,683.0 L413.4,683.0 L416.6,683.0 L419.8,683.0 L422.9,683.1 L426.1,683.1 L429.3,683.2 L432.5,683.3 L435.7,683.4 L438.8,683.5 L442.0,683.6 L445.2,683.7 L448.4,683.9 L451.6,684.0 L454.7,684.1 L457.9,684.3 L461.1,684.5 L464.3,684.6 L467.5,684.8 L470.6,685.0 L473.8,685.1 L477.0,685.3 L480.2,685.5 L483.4,685.7 L486.5,685.8 L489.7,686.0 L492.9,686.2 L496.1,686.4 L499.3,686.6 L502.4,686.8 L505.6,687.1 L508.8,687.3 L512.0,687.6 L515.2,687.9 L518.3,688.2 L521.5,688.5 L524.7,688.8 L527.9,689.1 L531.1,689.4 L534.2,689.7 L537.4,690.0 L540.6,690.2 L543.8,690.5 L547.0,690.8 L550.1,691.0 L553.3,691.3 L556.5,691.5 L559.7,691.7 L562.9,691.8 L566.0,692.0 L569.2,692.1 L572.4,692.3 L575.6,692.4 L578.8,692.6 L581.9,692.7 L585.1,692.8 L588.3,693.0 L591.5,693.1 L594.7,693.2 L597.8,693.3 L601.0,693.5 L604.2,693.6 L607.4,693.7 L610.6,693.8 L613.7,693.9 L616.9,694.0 L620.1,694.1 L623.3,694.2 L626.5,694.3 L629.6,694.4 L632.8,694.5 L636.0,694.6 L639.2,694.7 L642.4,694.7 L645.5,694.8 L648.7,694.8 L651.9,694.9 L655.1,694.9 L658.3,695.0 L661.4,695.0 L664.6,695.0 L667.8,695.0" stroke="#000080" stroke-width="4.3"/>
<path d="M159.0,698.0 L162.2,698.2 L165.4,698.5 L168.5,698.7 L171.7,699.0 L174.9,699.2 L178.1,699.4 L181.3,699.7 L184.4,699.9 L187.6,700.1 L190.8,700.3 L194.0,700.5 L197.2,700.7 L200.3,700.9 L203.5,701.1 L206.7,701.3 L209.9,701.5 L213.1,701.7 L216.2,701.8 L219.4,702.0 L222.6,702.1 L225.8,702.2 L229.0,702.4 L232.1,702.5 L235.3,702.6 L238.5,702.7 L241.7,702.8 L244.9,702.8 L248.0,702.9 L251.2,702.9 L254.4,703.0 L257.6,703.0 L260.8,703.0 L263.9,703.0 L267.1,703.0 L270.3,703.0 L273.5,703.0 L276.7,703.0 L279.8,703.0 L283.0,703.0 L286.2,703.0 L289.4,703.0 L292.6,703.0 L295.7,703.0 L298.9,703.0 L302.1,703.0 L305.3,703.0 L308.5,703.0 L311.6,703.0 L314.8,703.0 L318.0,703.0 L321.2,703.0 L324.4,703.0 L327.5,703.0 L330.7,703.0 L333.9,703.0 L337.1,703.0 L340.3,703.0 L343.4,703.0 L346.6,703.0 L349.8,702.9 L353.0,702.9 L356.2,702.8 L359.3,702.8 L362.5,702.7 L365.7,702.7 L368.9,702.6 L372.1,702.6 L375.2,702.5 L378.4,702.4 L381.6,702.4 L384.8,702.3 L388.0,702.3 L391.1,702.2 L394.3,702.2 L397.5,702.1 L400.7,702.1 L403.9,702.0 L407.0,702.0 L410.2,702.0 L413.4,702.0 L416.6,702.0 L419.8,702.0 L422.9,702.0 L426.1,702.1 L429.3,702.1 L432.5,702.2 L435.7,702.2 L438.8,702.3 L442.0,702.3 L445.2,702.4 L448.4,702.4 L451.6,702.5 L454.7,702.6 L457.9,702.6 L461.1,702.7 L464.3,702.7 L467.5,702.8 L470.6,702.8 L473.8,702.9 L477.0,702.9 L480.2,703.0 L483.4,703.0 L486.5,703.0 L489.7,703.0 L492.9,703.0 L496.1,703.0 L499.3,703.0 L502.4,703.0 L505.6,703.0 L508.8,703.0 L512.0,703.0 L515.2,703.0 L518.3,703.0 L521.5,703.0 L524.7,703.0 L527.9,703.0 L531.1,703.0 L534.2,703.0 L537.4,703.0 L540.6,703.0 L543.8,703.0 L547.0,703.0 L550.1,703.0 L553.3,703.0 L556.5,703.0 L559.7,703.0 L562.9,703.0 L566.0,703.0 L569.2,703.0 L572.4,703.0 L575.6,702.9 L578.8,702.9 L581.9,702.8 L585.1,702.8 L588.3,702.7 L591.5,702.6 L594.7,702.5 L597.8,702.4 L601.0,702.2 L604.2,702.1 L607.4,702.0 L610.6,701.8 L613.7,701.7 L616.9,701.5 L620.1,701.3 L623.3,701.1 L626.5,700.9 L629.6,700.7 L632.8,700.5 L636.0,700.3 L639.2,700.1 L642.4,699.9 L645.5,699.7 L648.7,699.4 L651.9,699.2 L655.1,699.0 L658.3,698.7 L661.4,698.5 L664.6,698.2 L667.8,698.0" stroke="#000080" stroke-width="4.3"/>
<path d="M159.0,706.0 L162.2,706.2 L165.4,706.4 L168.5,706.5 L171.7,706.7 L174.9,706.8 L178.1,706.9 L181.3,707.0 L184.4,707.2 L187.6,707.3 L190.8,707.4 L194.0,707.4 L197.2,707.5 L200.3,707.6 L203.5,707.6 L206.7,707.7 L209.9,707.8 L213.1,707.8 L216.2,707.8 L219.4,707.9 L222.6,707.9 L225.8,707.9 L229.0,707.9 L232.1,708.0 L235.3,708.0 L238.5,708.0 L241.7,708.0 L244.9,708.0 L248.0,708.0 L251.2,708.0 L254.4,708.0 L257.6,708.0 L260.8,708.0 L263.9,708.0 L267.1,707.9 L270.3,707.8 L273.5,707.6 L276.7,707.5 L279.8,707.2 L283.0,707.0 L286.2,706.7 L289.4,706.5 L292.6,706.1 L295.7,705.8 L298.9,705.5 L302.1,705.2 L305.3,704.8 L308.5,704.5 L311.6,704.1 L314.8,703.8 L318.0,703.5 L321.2,703.2 L324.4,702.9 L327.5,702.6 L330.7,702.4 L333.9,702.2 L337.1,702.0 L340.3,701.8 L343.4,701.7 L346.6,701.5 L349.8,701.3 L353.0,701.1 L356.2,701.0 L359.3,700.8 L362.5,700.6 L365.7,700.5 L368.9,700.3 L372.1,700.1 L375.2,700.0 L378.4,699.9 L381.6,699.7 L384.8,699.6 L388.0,699.5 L391.1,699.4 L394.3,699.3 L397.5,699.2 L400.7,699.1 L403.9,699.1 L407.0,699.0 L410.2,699.0 L413.4,699.0 L416.6,699.0 L419.8,699.0 L422.9,699.1 L426.1,699.1 L429.3,699.2 L432.5,699.3 L435.7,699.4 L438.8,699.5 L442.0,699.6 L445.2,699.7 L448.4,699.9 L451.6,700.0 L454.7,700.1 L457.9,700.3 L461.1,700.5 L464.3,700.6 L467.5,700.8 L470.6,701.0 L473.8,701.1 L477.0,701.3 L480.2,701.5 L483.4,701.7 L486.5,701.8 L489.7,702.0 L492.9,702.2 L496.1,702.4 L499.3,702.6 L502.4,702.9 L505.6,703.2 L508.8,703.5 L512.0,703.8 L515.2,704.1 L518.3,704.5 L521.5,704.8 L524.7,705.2 L527.9,705.5 L531.1,705.8 L534.2,706.1 L537.4,706.5 L540.6,706.7 L543.8,707.0 L547.0,707.2 L550.1,707.5 L553.3,707.6 L556.5,707.8 L559.7,707.9 L562.9,708.0 L566.0,708.0 L569.2,708.0 L572.4,708.0 L575.6,708.0 L578.8,708.0 L581.9,708.0 L585.1,708.0 L588.3,708.0 L591.5,708.0 L594.7,708.0 L597.8,707.9 L601.0,707.9 L604.2,707.9 L607.4,707.9 L610.6,707.8 L613.7,707.8 L616.9,707.8 L620.1,707.7 L623.3,707.6 L626.5,707.6 L629.6,707.5 L632.8,707.4 L636.0,707.4 L639.2,707.3 L642.4,707.2 L645.5,707.0 L648.7,706.9 L651.9,706.8 L655.1,706.7 L658.3,706.5 L661.4,706.4 L664.6,706.2 L667.8,706.0" stroke="#000080" stroke-width="4.3"/>
<path d="M159.0,711.0 L162.2,710.7 L165.4,710.4 L168.5,710.1 L171.7,709.8 L174.9,709.5 L178.1,709.3 L181.3,709.0 L184.4,708.8 L187.6,708.5 L190.8,708.3 L194.0,708.1 L197.2,707.9 L200.3,707.7 L203.5,707.5 L206.7,707.3 L209.9,707.1 L213.1,706.9 L216.2,706.7 L219.4,706.6 L222.6,706.4 L225.8,706.3 L229.0,706.2 L232.1,706.0 L235.3,705.9 L238.5,705.8 L241.7,705.7 L244.9,705.6 L248.0,705.5 L251.2,705.4 L254.4,705.4 L257.6,705.3 L260.8,705.2 L263.9,705.2 L267.1,705.1 L270.3,705.1 L273.5,705.1 L276.7,705.0 L279.8,705.0 L283.0,705.0 L286.2,705.0 L289.4,705.0 L292.6,705.1 L295.7,705.1 L298.9,705.2 L302.1,705.3 L305.3,705.4 L308.5,705.6 L311.6,705.7 L314.8,705.9 L318.0,706.1 L321.2,706.3 L324.4,706.5 L327.5,706.7 L330.7,707.0 L333.9,707.2 L337.1,707.5 L340.3,707.7 L343.4,708.0 L346.6,708.2 L349.8,708.5 L353.0,708.8 L356.2,709.0 L359.3,709.3 L362.5,709.5 L365.7,709.8 L368.9,710.0 L372.1,710.3 L375.2,710.5 L378.4,710.7 L381.6,710.9 L384.8,711.1 L388.0,711.3 L391.1,711.4 L394.3,711.6 L397.5,711.7 L400.7,711.8 L403.9,711.9 L407.0,711.9 L410.2,712.0 L413.4,712.0 L416.6,712.0 L419.8,711.9 L422.9,711.9 L426.1,711.8 L429.3,711.7 L432.5,711.6 L435.7,711.4 L438.8,711.3 L442.0,711.1 L445.2,710.9 L448.4,710.7 L451.6,710.5 L454.7,710.3 L457.9,710.0 L461.1,709.8 L464.3,709.5 L467.5,709.3 L470.6,709.0 L473.8,708.8 L477.0,708.5 L480.2,708.2 L483.4,708.0 L486.5,707.7 L489.7,707.5 L492.9,707.2 L496.1,707.0 L499.3,706.7 L502.4,706.5 L505.6,706.3 L508.8,706.1 L512.0,705.9 L515.2,705.7 L518.3,705.6 L521.5,705.4 L524.7,705.3 L527.9,705.2 L531.1,705.1 L534.2,705.1 L537.4,705.0 L540.6,705.0 L543.8,705.0 L547.0,705.0 L550.1,705.0 L553.3,705.1 L556.5,705.1 L559.7,705.1 L562.9,705.2 L566.0,705.2 L569.2,705.3 L572.4,705.4 L575.6,705.4 L578.8,705.5 L581.9,705.6 L585.1,705.7 L588.3,705.8 L591.5,705.9 L594.7,706.0 L597.8,706.2 L601.0,706.3 L604.2,706.4 L607.4,706.6 L610.6,706.7 L613.7,706.9 L616.9,707.1 L620.1,707.3 L623.3,707.5 L626.5,707.7 L629.6,707.9 L632.8,708.1 L636.0,708.3 L639.2,708.5 L642.4,708.8 L645.5,709.0 L648.7,709.3 L651.9,709.5 L655.1,709.8 L658.3,710.1 L661.4,710.4 L664.6,710.7 L667.8,711.0" stroke="#000080" stroke-width="4.3"/>
<path d="M159.0,716.0 L162.2,716.1 L165.4,716.3 L168.5,716.4 L171.7,716.5 L174.9,716.7 L178.1,716.8 L181.3,716.9 L184.4,717.0 L187.6,717.1 L190.8,717.2 L194.0,717.2 L197.2,717.3 L200.3,717.4 L203.5,717.5 L206.7,717.5 L209.9,717.6 L213.1,717.6 L216.2,717.7 L219.4,717.7 L222.6,717.8 L225.8,717.8 L229.0,717.8 L232.1,717.8 L235.3,717.9 L238.5,717.9 L241.7,717.9 L244.9,717.9 L248.0,717.9 L251.2,718.0 L254.4,718.0 L257.6,718.0 L260.8,718.0 L263.9,718.0 L267.1,718.0 L270.3,718.0 L273.5,718.0 L276.7,718.0 L279.8,718.0 L283.0,718.0 L286.2,718.0 L289.4,718.0 L292.6,717.9 L295.7,717.9 L298.9,717.7 L302.1,717.6 L305.3,717.5 L308.5,717.3 L311.6,717.1 L314.8,716.8 L318.0,716.6 L321.2,716.3 L324.4,716.1 L327.5,715.8 L330.7,715.5 L333.9,715.2 L337.1,714.8 L340.3,714.5 L343.4,714.2 L346.6,713.8 L349.8,713.5 L353.0,713.2 L356.2,712.8 L359.3,712.5 L362.5,712.2 L365.7,711.8 L368.9,711.5 L372.1,711.2 L375.2,710.9 L378.4,710.7 L381.6,710.4 L384.8,710.2 L388.0,709.9 L391.1,709.7 L394.3,709.5 L397.5,709.4 L400.7,709.3 L403.9,709.1 L407.0,709.1 L410.2,709.0 L413.4,709.0 L416.6,709.0 L419.8,709.1 L422.9,709.1 L426.1,709.3 L429.3,709.4 L432.5,709.5 L435.7,709.7 L438.8,709.9 L442.0,710.2 L445.2,710.4 L448.4,710.7 L451.6,710.9 L454.7,711.2 L457.9,711.5 L461.1,711.8 L464.3,712.2 L467.5,712.5 L470.6,712.8 L473.8,713.2 L477.0,713.5 L480.2,713.8 L483.4,714.2 L486.5,714.5 L489.7,714.8 L492.9,715.2 L496.1,715.5 L499.3,715.8 L502.4,716.1 L505.6,716.3 L508.8,716.6 L512.0,716.8 L515.2,717.1 L518.3,717.3 L521.5,717.5 L524.7,717.6 L527.9,717.7 L531.1,717.9 L534.2,717.9 L537.4,718.0 L540.6,718.0 L543.8,718.0 L547.0,718.0 L550.1,718.0 L553.3,718.0 L556.5,718.0 L559.7,718.0 L562.9,718.0 L566.0,718.0 L569.2,718.0 L572.4,718.0 L575.6,718.0 L578.8,717.9 L581.9,717.9 L585.1,717.9 L588.3,717.9 L591.5,717.9 L594.7,717.8 L597.8,717.8 L601.0,717.8 L604.2,717.8 L607.4,717.7 L610.6,717.7 L613.7,717.6 L616.9,717.6 L620.1,717.5 L623.3,717.5 L626.5,717.4 L629.6,717.3 L632.8,717.2 L636.0,717.2 L639.2,717.1 L642.4,717.0 L645.5,716.9 L648.7,716.8 L651.9,716.7 L655.1,716.5 L658.3,716.4 L661.4,716.3 L664.6,716.1 L667.8,716.0" stroke="#000080" stroke-width="4.3"/>
<path d="M159.0,720.0 L162.2,719.7 L165.4,719.3 L168.5,719.0 L171.7,718.7 L174.9,718.5 L178.1,718.2 L181.3,717.9 L184.4,717.6 L187.6,717.4 L190.8,717.2 L194.0,716.9 L197.2,716.7 L200.3,716.5 L203.5,716.3 L206.7,716.1 L209.9,715.9 L213.1,715.8 L216.2,715.6 L219.4,715.5 L222.6,715.3 L225.8,715.2 L229.0,715.0 L232.1,714.9 L235.3,714.8 L238.5,714.7 L241.7,714.6 L244.9,714.5 L248.0,714.4 L251.2,714.4 L254.4,714.3 L257.6,714.2 L260.8,714.2 L263.9,714.1 L267.1,714.1 L270.3,714.1 L273.5,714.0 L276.7,714.0 L279.8,714.0 L283.0,714.0 L286.2,714.0 L289.4,714.0 L292.6,714.1 L295.7,714.1 L298.9,714.3 L302.1,714.4 L305.3,714.5 L308.5,714.7 L311.6,714.9 L314.8,715.2 L318.0,715.4 L321.2,715.7 L324.4,715.9 L327.5,716.2 L330.7,716.5 L333.9,716.8 L337.1,717.2 L340.3,717.5 L343.4,717.8 L346.6,718.2 L349.8,718.5 L353.0,718.8 L356.2,719.2 L359.3,719.5 L362.5,719.8 L365.7,720.2 L368.9,720.5 L372.1,720.8 L375.2,721.1 L378.4,721.3 L381.6,721.6 L384.8,721.8 L388.0,722.1 L391.1,722.3 L394.3,722.5 L397.5,722.6 L400.7,722.7 L403.9,722.9 L407.0,722.9 L410.2,723.0 L413.4,723.0 L416.6,723.0 L419.8,722.9 L422.9,722.9 L426.1,722.7 L429.3,722.6 L432.5,722.5 L435.7,722.3 L438.8,722.1 L442.0,721.8 L445.2,721.6 L448.4,721.3 L451.6,721.1 L454.7,720.8 L457.9,720.5 L461.1,720.2 L464.3,719.8 L467.5,719.5 L470.6,719.2 L473.8,718.8 L477.0,718.5 L480.2,718.2 L483.4,717.8 L486.5,717.5 L489.7,717.2 L492.9,716.8 L496.1,716.5 L499.3,716.2 L502.4,715.9 L505.6,715.7 L508.8,715.4 L512.0,715.2 L515.2,714.9 L518.3,714.7 L521.5,714.5 L524.7,714.4 L527.9,714.3 L531.1,714.1 L534.2,714.1 L537.4,714.0 L540.6,714.0 L543.8,714.0 L547.0,714.0 L550.1,714.0 L553.3,714.0 L556.5,714.1 L559.7,714.1 L562.9,714.1 L566.0,714.2 L569.2,714.2 L572.4,714.3 L575.6,714.4 L578.8,714.4 L581.9,714.5 L585.1,714.6 L588.3,714.7 L591.5,714.8 L594.7,714.9 L597.8,715.0 L601.0,715.2 L604.2,715.3 L607.4,715.5 L610.6,715.6 L613.7,715.8 L616.9,715.9 L620.1,716.1 L623.3,716.3 L626.5,716.5 L629.6,716.7 L632.8,716.9 L636.0,717.2 L639.2,717.4 L642.4,717.6 L645.5,717.9 L648.7,718.2 L651.9,718.5 L655.1,718.7 L658.3,719.0 L661.4,719.3 L664.6,719.7 L667.8,720.0" stroke="#000080" stroke-width="4.3"/>
<path d="M159.0,724.0 L162.2,724.1 L165.4,724.3 L168.5,724.4 L171.7,724.5 L174.9,724.7 L178.1,724.8 L181.3,724.9 L184.4,725.0 L187.6,725.1 L190.8,725.2 L194.0,725.2 L197.2,725.3 L200.3,725.4 L203.5,725.5 L206.7,725.5 L209.9,725.6 L213.1,725.6 L216.2,725.7 L219.4,725.7 L222.6,725.8 L225.8,725.8 L229.0,725.8 L232.1,725.8 L235.3,725.9 L238.5,725.9 L241.7,725.9 L244.9,725.9 L248.0,725.9 L251.2,726.0 L254.4,726.0 L257.6,726.0 L260.8,726.0 L263.9,726.0 L267.1,726.0 L270.3,726.0 L273.5,726.0 L276.7,726.0 L279.8,726.0 L283.0,726.0 L286.2,726.0 L289.4,726.0 L292.6,725.9 L295.7,725.9 L298.9,725.8 L302.1,725.7 L305.3,725.6 L308.5,725.4 L311.6,725.3 L314.8,725.1 L318.0,724.9 L321.2,724.7 L324.4,724.5 L327.5,724.3 L330.7,724.0 L333.9,723.8 L337.1,723.5 L340.3,723.3 L343.4,723.0 L346.6,722.8 L349.8,722.5 L353.0,722.2 L356.2,722.0 L359.3,721.7 L362.5,721.5 L365.7,721.2 L368.9,721.0 L372.1,720.7 L375.2,720.5 L378.4,720.3 L381.6,720.1 L384.8,719.9 L388.0,719.7 L391.1,719.6 L394.3,719.4 L397.5,719.3 L400.7,719.2 L403.9,719.1 L407.0,719.1 L410.2,719.0 L413.4,719.0 L416.6,719.0 L419.8,719.1 L422.9,719.1 L426.1,719.2 L429.3,719.3 L432.5,719.4 L435.7,719.6 L438.8,719.7 L442.0,719.9 L445.2,720.1 L448.4,720.3 L451.6,720.5 L454.7,720.7 L457.9,721.0 L461.1,721.2 L464.3,721.5 L467.5,721.7 L470.6,722.0 L473.8,722.2 L477.0,722.5 L480.2,722.8 L483.4,723.0 L486.5,723.3 L489.7,723.5 L492.9,723.8 L496.1,724.0 L499.3,724.3 L502.4,724.5 L505.6,724.7 L508.8,724.9 L512.0,725.1 L515.2,725.3 L518.3,725.4 L521.5,725.6 L524.7,725.7 L527.9,725.8 L531.1,725.9 L534.2,725.9 L537.4,726.0 L540.6,726.0 L543.8,726.0 L547.0,726.0 L550.1,726.0 L553.3,726.0 L556.5,726.0 L559.7,726.0 L562.9,726.0 L566.0,726.0 L569.2,726.0 L572.4,726.0 L575.6,726.0 L578.8,725.9 L581.9,725.9 L585.1,725.9 L588.3,725.9 L591.5,725.9 L594.7,725.8 L597.8,725.8 L601.0,725.8 L604.2,725.8 L607.4,725.7 L610.6,725.7 L613.7,725.6 L616.9,725.6 L620.1,725.5 L623.3,725.5 L626.5,725.4 L629.6,725.3 L632.8,725.2 L636.0,725.2 L639.2,725.1 L642.4,725.0 L645.5,724.9 L648.7,724.8 L651.9,724.7 L655.1,724.5 L658.3,724.4 L661.4,724.3 L664.6,724.1 L667.8,724.0" stroke="#000080" stroke-width="4.3"/>
<path d="M159.0,728.0 L162.2,727.7 L165.4,727.4 L168.5,727.2 L171.7,726.9 L174.9,726.6 L178.1,726.4 L181.3,726.1 L184.4,725.9 L187.6,725.7 L190.8,725.4 L194.0,725.2 L197.2,725.0 L200.3,724.8 L203.5,724.6 L206.7,724.4 L209.9,724.2 L213.1,724.1 L216.2,723.9 L219.4,723.7 L222.6,723.6 L225.8,723.4 L229.0,723.3 L232.1,723.1 L235.3,723.0 L238.5,722.9 L241.7,722.8 L244.9,722.7 L248.0,722.6 L251.2,722.5 L254.4,722.4 L257.6,722.3 L260.8,722.3 L263.9,722.2 L267.1,722.1 L270.3,722.1 L273.5,722.1 L276.7,722.0 L279.8,722.0 L283.0,722.0 L286.2,722.0 L289.4,722.0 L292.6,722.0 L295.7,722.1 L298.9,722.1 L302.1,722.2 L305.3,722.3 L308.5,722.4 L311.6,722.5 L314.8,722.6 L318.0,722.8 L321.2,722.9 L324.4,723.1 L327.5,723.2 L330.7,723.4 L333.9,723.6 L337.1,723.8 L340.3,723.9 L343.4,724.1 L346.6,724.3 L349.8,724.5 L353.0,724.7 L356.2,724.9 L359.3,725.1 L362.5,725.2 L365.7,725.4 L368.9,725.6 L372.1,725.8 L375.2,725.9 L378.4,726.1 L381.6,726.2 L384.8,726.4 L388.0,726.5 L391.1,726.6 L394.3,726.7 L397.5,726.8 L400.7,726.9 L403.9,726.9 L407.0,727.0 L410.2,727.0 L413.4,727.0 L416.6,727.0 L419.8,727.0 L422.9,726.9 L426.1,726.9 L429.3,726.8 L432.5,726.7 L435.7,726.6 L438.8,726.5 L442.0,726.4 L445.2,726.2 L448.4,726.1 L451.6,725.9 L454.7,725.8 L457.9,725.6 L461.1,725.4 L464.3,725.2 L467.5,725.1 L470.6,724.9 L473.8,724.7 L477.0,724.5 L480.2,724.3 L483.4,724.1 L486.5,723.9 L489.7,723.8 L492.9,723.6 L496.1,723.4 L499.3,723.2 L502.4,723.1 L505.6,722.9 L508.8,722.8 L512.0,722.6 L515.2,722.5 L518.3,722.4 L521.5,722.3 L524.7,722.2 L527.9,722.1 L531.1,722.1 L534.2,722.0 L537.4,722.0 L540.6,722.0 L543.8,722.0 L547.0,722.0 L550.1,722.0 L553.3,722.1 L556.5,722.1 L559.7,722.1 L562.9,722.2 L566.0,722.3 L569.2,722.3 L572.4,722.4 L575.6,722.5 L578.8,722.6 L581.9,722.7 L585.1,722.8 L588.3,722.9 L591.5,723.0 L594.7,723.1 L597.8,723.3 L601.0,723.4 L604.2,723.6 L607.4,723.7 L610.6,723.9 L613.7,724.1 L616.9,724.2 L620.1,724.4 L623.3,724.6 L626.5,724.8 L629.6,725.0 L632.8,725.2 L636.0,725.4 L639.2,725.7 L642.4,725.9 L645.5,726.1 L648.7,726.4 L651.9,726.6 L655.1,726.9 L658.3,727.2 L661.4,727.4 L664.6,727.7 L667.8,728.0" stroke="#000080" stroke-width="4.3"/>
<path d="M159.0,731.0 L162.2,731.0 L165.4,730.9 L168.5,730.9 L171.7,730.8 L174.9,730.8 L178.1,730.7 L181.3,730.7 L184.4,730.6 L187.6,730.6 L190.8,730.6 L194.0,730.5 L197.2,730.5 L200.3,730.5 L203.5,730.4 L206.7,730.4 L209.9,730.4 L213.1,730.3 L216.2,730.3 L219.4,730.3 L222.6,730.2 L225.8,730.2 L229.0,730.2 L232.1,730.2 L235.3,730.2 L238.5,730.1 L241.7,730.1 L244.9,730.1 L248.0,730.1 L251.2,730.1 L254.4,730.1 L257.6,730.1 L260.8,730.0 L263.9,730.0 L267.1,730.0 L270.3,730.0 L273.5,730.0 L276.7,730.0 L279.8,730.0 L283.0,730.0 L286.2,730.0 L289.4,730.0 L292.6,730.0 L295.7,730.0 L298.9,730.0 L302.1,730.0 L305.3,730.1 L308.5,730.1 L311.6,730.1 L314.8,730.1 L318.0,730.2 L321.2,730.2 L324.4,730.2 L327.5,730.2 L330.7,730.3 L333.9,730.3 L337.1,730.4 L340.3,730.4 L343.4,730.4 L346.6,730.5 L349.8,730.5 L353.0,730.5 L356.2,730.6 L359.3,730.6 L362.5,730.6 L365.7,730.7 L368.9,730.7 L372.1,730.8 L375.2,730.8 L378.4,730.8 L381.6,730.8 L384.8,730.9 L388.0,730.9 L391.1,730.9 L394.3,730.9 L397.5,731.0 L400.7,731.0 L403.9,731.0 L407.0,731.0 L410.2,731.0 L413.4,731.0 L416.6,731.0 L419.8,731.0 L422.9,731.0 L426.1,731.0 L429.3,731.0 L432.5,730.9 L435.7,730.9 L438.8,730.9 L442.0,730.9 L445.2,730.8 L448.4,730.8 L451.6,730.8 L454.7,730.8 L457.9,730.7 L461.1,730.7 L464.3,730.6 L467.5,730.6 L470.6,730.6 L473.8,730.5 L477.0,730.5 L480.2,730.5 L483.4,730.4 L486.5,730.4 L489.7,730.4 L492.9,730.3 L496.1,730.3 L499.3,730.2 L502.4,730.2 L505.6,730.2 L508.8,730.2 L512.0,730.1 L515.2,730.1 L518.3,730.1 L521.5,730.1 L524.7,730.0 L527.9,730.0 L531.1,730.0 L534.2,730.0 L537.4,730.0 L540.6,730.0 L543.8,730.0 L547.0,730.0 L550.1,730.0 L553.3,730.0 L556.5,730.0 L559.7,730.0 L562.9,730.0 L566.0,730.0 L569.2,730.1 L572.4,730.1 L575.6,730.1 L578.8,730.1 L581.9,730.1 L585.1,730.1 L588.3,730.1 L591.5,730.2 L594.7,730.2 L597.8,730.2 L601.0,730.2 L604.2,730.2 L607.4,730.3 L610.6,730.3 L613.7,730.3 L616.9,730.4 L620.1,730.4 L623.3,730.4 L626.5,730.5 L629.6,730.5 L632.8,730.5 L636.0,730.6 L639.2,730.6 L642.4,730.6 L645.5,730.7 L648.7,730.7 L651.9,730.8 L655.1,730.8 L658.3,730.9 L661.4,730.9 L664.6,731.0 L667.8,731.0" stroke="#000080" stroke-width="4.3"/>
<path d="M159.0,712.0 L162.2,711.8 L165.4,711.6 L168.5,711.3 L171.7,711.1 L174.9,710.8 L178.1,710.5 L181.3,710.2 L184.4,709.9 L187.6,709.6 L190.8,709.3 L194.0,708.9 L197.2,708.6 L200.3,708.2 L203.5,707.9 L206.7,707.5 L209.9,707.1 L213.1,706.7 L216.2,706.3 L219.4,705.9 L222.6,705.5 L225.8,705.1 L229.0,704.6 L232.1,704.2 L235.3,703.8 L238.5,703.3 L241.7,702.8 L244.9,702.4 L248.0,701.9 L251.2,701.4 L254.4,701.0 L257.6,700.5 L260.8,700.0 L263.9,699.5 L267.1,698.9 L270.3,698.3 L273.5,697.7 L276.7,697.0 L279.8,696.4 L283.0,695.6 L286.2,694.9 L289.4,694.2 L292.6,693.4 L295.7,692.6 L298.9,691.9 L302.1,691.1 L305.3,690.3 L308.5,689.6 L311.6,688.9 L314.8,688.1 L318.0,687.5 L321.2,686.8 L324.4,686.1 L327.5,685.5 L330.7,685.0 L333.9,684.5 L337.1,684.0 L340.3,683.6 L343.4,683.1 L346.6,682.6 L349.8,682.2 L353.0,681.7 L356.2,681.2 L359.3,680.8 L362.5,680.3 L365.7,679.9 L368.9,679.5 L372.1,679.1 L375.2,678.7 L378.4,678.3 L381.6,677.9 L384.8,677.6 L388.0,677.3 L391.1,677.0 L394.3,676.8 L397.5,676.5 L400.7,676.3 L403.9,676.2 L407.0,676.1 L410.2,676.0 L413.4,676.0 L416.6,676.0 L419.8,676.1 L422.9,676.2 L426.1,676.3 L429.3,676.5 L432.5,676.8 L435.7,677.0 L438.8,677.3 L442.0,677.6 L445.2,677.9 L448.4,678.3 L451.6,678.7 L454.7,679.1 L457.9,679.5 L461.1,679.9 L464.3,680.3 L467.5,680.8 L470.6,681.2 L473.8,681.7 L477.0,682.2 L480.2,682.6 L483.4,683.1 L486.5,683.6 L489.7,684.0 L492.9,684.5 L496.1,685.0 L499.3,685.5 L502.4,686.1 L505.6,686.8 L508.8,687.5 L512.0,688.1 L515.2,688.9 L518.3,689.6 L521.5,690.3 L524.7,691.1 L527.9,691.9 L531.1,692.6 L534.2,693.4 L537.4,694.2 L540.6,694.9 L543.8,695.6 L547.0,696.4 L550.1,697.0 L553.3,697.7 L556.5,698.3 L559.7,698.9 L562.9,699.5 L566.0,700.0 L569.2,700.5 L572.4,701.0 L575.6,701.4 L578.8,701.9 L581.9,702.4 L585.1,702.8 L588.3,703.3 L591.5,703.8 L594.7,704.2 L597.8,704.6 L601.0,705.1 L604.2,705.5 L607.4,705.9 L610.6,706.3 L613.7,706.7 L616.9,707.1 L620.1,707.5 L623.3,707.9 L626.5,708.2 L629.6,708.6 L632.8,708.9 L636.0,709.3 L639.2,709.6 L642.4,709.9 L645.5,710.2 L648.7,710.5 L651.9,710.8 L655.1,711.1 L658.3,711.3 L661.4,711.6 L664.6,711.8 L667.8,712.0" stroke="#000080" stroke-width="4.3"/>
<path d="M159.0,718.0 L162.2,717.7 L165.4,717.4 L168.5,717.1 L171.7,716.7 L174.9,716.4 L178.1,716.1 L181.3,715.7 L184.4,715.4 L187.6,715.1 L190.8,714.7 L194.0,714.4 L197.2,714.0 L200.3,713.6 L203.5,713.3 L206.7,712.9 L209.9,712.5 L213.1,712.1 L216.2,711.7 L219.4,711.4 L222.6,711.0 L225.8,710.6 L229.0,710.2 L232.1,709.8 L235.3,709.4 L238.5,709.0 L241.7,708.5 L244.9,708.1 L248.0,707.7 L251.2,707.3 L254.4,706.9 L257.6,706.4 L260.8,706.0 L263.9,705.6 L267.1,705.1 L270.3,704.6 L273.5,704.1 L276.7,703.6 L279.8,703.0 L283.0,702.5 L286.2,701.9 L289.4,701.4 L292.6,700.8 L295.7,700.3 L298.9,699.7 L302.1,699.1 L305.3,698.6 L308.5,698.1 L311.6,697.5 L314.8,697.0 L318.0,696.5 L321.2,696.0 L324.4,695.6 L327.5,695.1 L330.7,694.7 L333.9,694.3 L337.1,694.0 L340.3,693.7 L343.4,693.3 L346.6,693.0 L349.8,692.6 L353.0,692.3 L356.2,691.9 L359.3,691.6 L362.5,691.3 L365.7,690.9 L368.9,690.6 L372.1,690.3 L375.2,690.0 L378.4,689.7 L381.6,689.4 L384.8,689.2 L388.0,689.0 L391.1,688.8 L394.3,688.6 L397.5,688.4 L400.7,688.3 L403.9,688.1 L407.0,688.1 L410.2,688.0 L413.4,688.0 L416.6,688.0 L419.8,688.1 L422.9,688.1 L426.1,688.3 L429.3,688.4 L432.5,688.6 L435.7,688.8 L438.8,689.0 L442.0,689.2 L445.2,689.4 L448.4,689.7 L451.6,690.0 L454.7,690.3 L457.9,690.6 L461.1,690.9 L464.3,691.3 L467.5,691.6 L470.6,691.9 L473.8,692.3 L477.0,692.6 L480.2,693.0 L483.4,693.3 L486.5,693.7 L489.7,694.0 L492.9,694.3 L496.1,694.7 L499.3,695.1 L502.4,695.6 L505.6,696.0 L508.8,696.5 L512.0,697.0 L515.2,697.5 L518.3,698.1 L521.5,698.6 L524.7,699.1 L527.9,699.7 L531.1,700.3 L534.2,700.8 L537.4,701.4 L540.6,701.9 L543.8,702.5 L547.0,703.0 L550.1,703.6 L553.3,704.1 L556.5,704.6 L559.7,705.1 L562.9,705.6 L566.0,706.0 L569.2,706.4 L572.4,706.9 L575.6,707.3 L578.8,707.7 L581.9,708.1 L585.1,708.5 L588.3,709.0 L591.5,709.4 L594.7,709.8 L597.8,710.2 L601.0,710.6 L604.2,711.0 L607.4,711.4 L610.6,711.7 L613.7,712.1 L616.9,712.5 L620.1,712.9 L623.3,713.3 L626.5,713.6 L629.6,714.0 L632.8,714.4 L636.0,714.7 L639.2,715.1 L642.4,715.4 L645.5,715.7 L648.7,716.1 L651.9,716.4 L655.1,716.7 L658.3,717.1 L661.4,717.4 L664.6,717.7 L667.8,718.0" stroke="#000080" stroke-width="4.3"/>
<path d="M159.0,726.0 L162.2,725.6 L165.4,725.3 L168.5,724.9 L171.7,724.6 L174.9,724.2 L178.1,723.9 L181.3,723.5 L184.4,723.1 L187.6,722.8 L190.8,722.4 L194.0,722.0 L197.2,721.7 L200.3,721.3 L203.5,720.9 L206.7,720.6 L209.9,720.2 L213.1,719.8 L216.2,719.4 L219.4,719.0 L222.6,718.7 L225.8,718.3 L229.0,717.9 L232.1,717.5 L235.3,717.1 L238.5,716.7 L241.7,716.4 L244.9,716.0 L248.0,715.6 L251.2,715.2 L254.4,714.8 L257.6,714.4 L260.8,714.0 L263.9,713.6 L267.1,713.2 L270.3,712.8 L273.5,712.4 L276.7,711.9 L279.8,711.5 L283.0,711.1 L286.2,710.6 L289.4,710.2 L292.6,709.7 L295.7,709.3 L298.9,708.8 L302.1,708.4 L305.3,708.0 L308.5,707.5 L311.6,707.1 L314.8,706.7 L318.0,706.3 L321.2,705.9 L324.4,705.5 L327.5,705.1 L330.7,704.7 L333.9,704.3 L337.1,704.0 L340.3,703.6 L343.4,703.3 L346.6,702.9 L349.8,702.5 L353.0,702.1 L356.2,701.7 L359.3,701.4 L362.5,701.0 L365.7,700.6 L368.9,700.2 L372.1,699.8 L375.2,699.5 L378.4,699.1 L381.6,698.8 L384.8,698.5 L388.0,698.2 L391.1,697.9 L394.3,697.7 L397.5,697.5 L400.7,697.3 L403.9,697.2 L407.0,697.1 L410.2,697.0 L413.4,697.0 L416.6,697.0 L419.8,697.1 L422.9,697.2 L426.1,697.3 L429.3,697.5 L432.5,697.7 L435.7,697.9 L438.8,698.2 L442.0,698.5 L445.2,698.8 L448.4,699.1 L451.6,699.5 L454.7,699.8 L457.9,700.2 L461.1,700.6 L464.3,701.0 L467.5,701.4 L470.6,701.7 L473.8,702.1 L477.0,702.5 L480.2,702.9 L483.4,703.3 L486.5,703.6 L489.7,704.0 L492.9,704.3 L496.1,704.7 L499.3,705.1 L502.4,705.5 L505.6,705.9 L508.8,706.3 L512.0,706.7 L515.2,707.1 L518.3,707.5 L521.5,708.0 L524.7,708.4 L527.9,708.8 L531.1,709.3 L534.2,709.7 L537.4,710.2 L540.6,710.6 L543.8,711.1 L547.0,711.5 L550.1,711.9 L553.3,712.4 L556.5,712.8 L559.7,713.2 L562.9,713.6 L566.0,714.0 L569.2,714.4 L572.4,714.8 L575.6,715.2 L578.8,715.6 L581.9,716.0 L585.1,716.4 L588.3,716.7 L591.5,717.1 L594.7,717.5 L597.8,717.9 L601.0,718.3 L604.2,718.7 L607.4,719.0 L610.6,719.4 L613.7,719.8 L616.9,720.2 L620.1,720.6 L623.3,720.9 L626.5,721.3 L629.6,721.7 L632.8,722.0 L636.0,722.4 L639.2,722.8 L642.4,723.1 L645.5,723.5 L648.7,723.9 L651.9,724.2 L655.1,724.6 L658.3,724.9 L661.4,725.3 L664.6,725.6 L667.8,726.0" stroke="#000080" stroke-width="4.3"/>
<path d="M159.0,730.0 L162.2,729.7 L165.4,729.4 L168.5,729.2 L171.7,728.9 L174.9,728.6 L178.1,728.3 L181.3,728.1 L184.4,727.8 L187.6,727.5 L190.8,727.2 L194.0,726.9 L197.2,726.7 L200.3,726.4 L203.5,726.1 L206.7,725.8 L209.9,725.5 L213.1,725.3 L216.2,725.0 L219.4,724.7 L222.6,724.4 L225.8,724.1 L229.0,723.9 L232.1,723.6 L235.3,723.3 L238.5,723.0 L241.7,722.7 L244.9,722.4 L248.0,722.1 L251.2,721.9 L254.4,721.6 L257.6,721.3 L260.8,721.0 L263.9,720.7 L267.1,720.4 L270.3,720.1 L273.5,719.8 L276.7,719.5 L279.8,719.1 L283.0,718.8 L286.2,718.5 L289.4,718.1 L292.6,717.8 L295.7,717.5 L298.9,717.2 L302.1,716.8 L305.3,716.5 L308.5,716.2 L311.6,715.9 L314.8,715.6 L318.0,715.4 L321.2,715.1 L324.4,714.8 L327.5,714.6 L330.7,714.4 L333.9,714.2 L337.1,714.0 L340.3,713.8 L343.4,713.6 L346.6,713.5 L349.8,713.3 L353.0,713.1 L356.2,712.9 L359.3,712.8 L362.5,712.6 L365.7,712.4 L368.9,712.3 L372.1,712.1 L375.2,712.0 L378.4,711.8 L381.6,711.7 L384.8,711.6 L388.0,711.5 L391.1,711.4 L394.3,711.3 L397.5,711.2 L400.7,711.1 L403.9,711.1 L407.0,711.0 L410.2,711.0 L413.4,711.0 L416.6,711.0 L419.8,711.0 L422.9,711.1 L426.1,711.1 L429.3,711.2 L432.5,711.3 L435.7,711.4 L438.8,711.5 L442.0,711.6 L445.2,711.7 L448.4,711.8 L451.6,712.0 L454.7,712.1 L457.9,712.3 L461.1,712.4 L464.3,712.6 L467.5,712.8 L470.6,712.9 L473.8,713.1 L477.0,713.3 L480.2,713.5 L483.4,713.6 L486.5,713.8 L489.7,714.0 L492.9,714.2 L496.1,714.4 L499.3,714.6 L502.4,714.8 L505.6,715.1 L508.8,715.4 L512.0,715.6 L515.2,715.9 L518.3,716.2 L521.5,716.5 L524.7,716.8 L527.9,717.2 L531.1,717.5 L534.2,717.8 L537.4,718.1 L540.6,718.5 L543.8,718.8 L547.0,719.1 L550.1,719.5 L553.3,719.8 L556.5,720.1 L559.7,720.4 L562.9,720.7 L566.0,721.0 L569.2,721.3 L572.4,721.6 L575.6,721.9 L578.8,722.1 L581.9,722.4 L585.1,722.7 L588.3,723.0 L591.5,723.3 L594.7,723.6 L597.8,723.9 L601.0,724.1 L604.2,724.4 L607.4,724.7 L610.6,725.0 L613.7,725.3 L616.9,725.5 L620.1,725.8 L623.3,726.1 L626.5,726.4 L629.6,726.7 L632.8,726.9 L636.0,727.2 L639.2,727.5 L642.4,727.8 L645.5,728.1 L648.7,728.3 L651.9,728.6 L655.1,728.9 L658.3,729.2 L661.4,729.4 L664.6,729.7 L667.8,730.0" stroke="#000080" stroke-width="4.3"/>
<path d="M159.0,690.0 L162.2,690.0 L165.4,690.0 L168.5,690.0 L171.7,690.1 L174.9,690.1 L178.1,690.2 L181.3,690.2 L184.4,690.3 L187.6,690.3 L190.8,690.4 L194.0,690.5 L197.2,690.6 L200.3,690.7 L203.5,690.8 L206.7,690.9 L209.9,691.0 L213.1,691.1 L216.2,691.2 L219.4,691.3 L222.6,691.5 L225.8,691.6 L229.0,691.7 L232.1,691.9 L235.3,692.0 L238.5,692.2 L241.7,692.3 L244.9,692.6 L248.0,692.8 L251.2,693.1 L254.4,693.4 L257.6,693.7 L260.8,694.1 L263.9,694.5 L267.1,694.9 L270.3,695.3 L273.5,695.8 L276.7,696.2 L279.8,696.7 L283.0,697.2 L286.2,697.7 L289.4,698.2 L292.6,698.7 L295.7,699.3 L298.9,699.8 L302.1,700.3 L305.3,700.9 L308.5,701.4 L311.6,702.0 L314.8,702.6 L318.0,703.3 L321.2,704.0 L324.4,704.8 L327.5,705.7 L330.7,706.6 L333.9,707.6 L337.1,708.5 L340.3,709.5 L343.4,710.5 L346.6,711.4 L349.8,712.4 L353.0,713.3 L356.2,714.2 L359.3,715.0 L362.5,715.8 L365.7,716.4 L368.9,717.1 L372.1,717.6 L375.2,718.0 L378.4,718.4 L381.6,718.7 L384.8,719.1 L388.0,719.4 L391.1,719.7 L394.3,720.0 L397.5,720.3 L400.7,720.5 L403.9,720.7 L407.0,720.9 L410.2,721.0 L413.4,721.0 L416.6,721.0 L419.8,720.9 L422.9,720.7 L426.1,720.5 L429.3,720.3 L432.5,720.0 L435.7,719.7 L438.8,719.4 L442.0,719.1 L445.2,718.7 L448.4,718.4 L451.6,718.0 L454.7,717.6 L457.9,717.1 L461.1,716.4 L464.3,715.8 L467.5,715.0 L470.6,714.2 L473.8,713.3 L477.0,712.4 L480.2,711.4 L483.4,710.5 L486.5,709.5 L489.7,708.5 L492.9,707.6 L496.1,706.6 L499.3,705.7 L502.4,704.8 L505.6,704.0 L508.8,703.3 L512.0,702.6 L515.2,702.0 L518.3,701.4 L521.5,700.9 L524.7,700.3 L527.9,699.8 L531.1,699.3 L534.2,698.7 L537.4,698.2 L540.6,697.7 L543.8,697.2 L547.0,696.7 L550.1,696.2 L553.3,695.8 L556.5,695.3 L559.7,694.9 L562.9,694.5 L566.0,694.1 L569.2,693.7 L572.4,693.4 L575.6,693.1 L578.8,692.8 L581.9,692.6 L585.1,692.3 L588.3,692.2 L591.5,692.0 L594.7,691.9 L597.8,691.7 L601.0,691.6 L604.2,691.5 L607.4,691.3 L610.6,691.2 L613.7,691.1 L616.9,691.0 L620.1,690.9 L623.3,690.8 L626.5,690.7 L629.6,690.6 L632.8,690.5 L636.0,690.4 L639.2,690.3 L642.4,690.3 L645.5,690.2 L648.7,690.2 L651.9,690.1 L655.1,690.1 L658.3,690.0 L661.4,690.0 L664.6,690.0 L667.8,690.0" stroke="#000080" stroke-width="4.3"/>
<path d="M159.0,677.0 L162.2,677.0 L165.4,677.0 L168.5,677.1 L171.7,677.1 L174.9,677.2 L178.1,677.2 L181.3,677.3 L184.4,677.4 L187.6,677.5 L190.8,677.6 L194.0,677.8 L197.2,677.9 L200.3,678.0 L203.5,678.2 L206.7,678.3 L209.9,678.5 L213.1,678.7 L216.2,678.8 L219.4,679.0 L222.6,679.2 L225.8,679.4 L229.0,679.6 L232.1,679.8 L235.3,680.0 L238.5,680.2 L241.7,680.5 L244.9,680.9 L248.0,681.4 L251.2,681.8 L254.4,682.4 L257.6,682.9 L260.8,683.5 L263.9,684.2 L267.1,684.8 L270.3,685.5 L273.5,686.2 L276.7,686.8 L279.8,687.5 L283.0,688.2 L286.2,688.9 L289.4,689.5 L292.6,690.1 L295.7,690.7 L298.9,691.3 L302.1,691.8 L305.3,692.2 L308.5,692.7 L311.6,693.0 L314.8,693.3 L318.0,693.6 L321.2,694.0 L324.4,694.3 L327.5,694.6 L330.7,694.9 L333.9,695.2 L337.1,695.5 L340.3,695.8 L343.4,696.1 L346.6,696.4 L349.8,696.7 L353.0,697.0 L356.2,697.3 L359.3,697.5 L362.5,697.8 L365.7,698.0 L368.9,698.2 L372.1,698.5 L375.2,698.7 L378.4,698.9 L381.6,699.1 L384.8,699.2 L388.0,699.4 L391.1,699.5 L394.3,699.6 L397.5,699.8 L400.7,699.8 L403.9,699.9 L407.0,700.0 L410.2,700.0 L413.4,700.0 L416.6,700.0 L419.8,700.0 L422.9,699.9 L426.1,699.8 L429.3,699.8 L432.5,699.6 L435.7,699.5 L438.8,699.4 L442.0,699.2 L445.2,699.1 L448.4,698.9 L451.6,698.7 L454.7,698.5 L457.9,698.2 L461.1,698.0 L464.3,697.8 L467.5,697.5 L470.6,697.3 L473.8,697.0 L477.0,696.7 L480.2,696.4 L483.4,696.1 L486.5,695.8 L489.7,695.5 L492.9,695.2 L496.1,694.9 L499.3,694.6 L502.4,694.3 L505.6,694.0 L508.8,693.6 L512.0,693.3 L515.2,693.0 L518.3,692.7 L521.5,692.2 L524.7,691.8 L527.9,691.3 L531.1,690.7 L534.2,690.1 L537.4,689.5 L540.6,688.9 L543.8,688.2 L547.0,687.5 L550.1,686.8 L553.3,686.2 L556.5,685.5 L559.7,684.8 L562.9,684.2 L566.0,683.5 L569.2,682.9 L572.4,682.4 L575.6,681.8 L578.8,681.4 L581.9,680.9 L585.1,680.5 L588.3,680.2 L591.5,680.0 L594.7,679.8 L597.8,679.6 L601.0,679.4 L604.2,679.2 L607.4,679.0 L610.6,678.8 L613.7,678.7 L616.9,678.5 L620.1,678.3 L623.3,678.2 L626.5,678.0 L629.6,677.9 L632.8,677.8 L636.0,677.6 L639.2,677.5 L642.4,677.4 L645.5,677.3 L648.7,677.2 L651.9,677.2 L655.1,677.1 L658.3,677.1 L661.4,677.0 L664.6,677.0 L667.8,677.0" stroke="#000080" stroke-width="4.3"/>
<path d="M159.0,702.0 L162.2,702.0 L165.4,702.1 L168.5,702.2 L171.7,702.3 L174.9,702.4 L178.1,702.5 L181.3,702.6 L184.4,702.8 L187.6,702.9 L190.8,703.1 L194.0,703.2 L197.2,703.4 L200.3,703.6 L203.5,703.8 L206.7,704.0 L209.9,704.2 L213.1,704.4 L216.2,704.6 L219.4,704.8 L222.6,705.1 L225.8,705.3 L229.0,705.5 L232.1,705.8 L235.3,706.0 L238.5,706.3 L241.7,706.5 L244.9,706.9 L248.0,707.2 L251.2,707.6 L254.4,708.0 L257.6,708.4 L260.8,708.8 L263.9,709.2 L267.1,709.7 L270.3,710.2 L273.5,710.6 L276.7,711.1 L279.8,711.6 L283.0,712.1 L286.2,712.6 L289.4,713.0 L292.6,713.5 L295.7,713.9 L298.9,714.4 L302.1,714.8 L305.3,715.2 L308.5,715.6 L311.6,716.0 L314.8,716.4 L318.0,716.7 L321.2,717.1 L324.4,717.5 L327.5,717.9 L330.7,718.3 L333.9,718.8 L337.1,719.2 L340.3,719.6 L343.4,720.0 L346.6,720.4 L349.8,720.8 L353.0,721.3 L356.2,721.7 L359.3,722.1 L362.5,722.4 L365.7,722.8 L368.9,723.2 L372.1,723.5 L375.2,723.8 L378.4,724.2 L381.6,724.5 L384.8,724.7 L388.0,725.0 L391.1,725.2 L394.3,725.4 L397.5,725.6 L400.7,725.7 L403.9,725.8 L407.0,725.9 L410.2,726.0 L413.4,726.0 L416.6,726.0 L419.8,725.9 L422.9,725.8 L426.1,725.7 L429.3,725.6 L432.5,725.4 L435.7,725.2 L438.8,725.0 L442.0,724.7 L445.2,724.5 L448.4,724.2 L451.6,723.8 L454.7,723.5 L457.9,723.2 L461.1,722.8 L464.3,722.4 L467.5,722.1 L470.6,721.7 L473.8,721.3 L477.0,720.8 L480.2,720.4 L483.4,720.0 L486.5,719.6 L489.7,719.2 L492.9,718.8 L496.1,718.3 L499.3,717.9 L502.4,717.5 L505.6,717.1 L508.8,716.7 L512.0,716.4 L515.2,716.0 L518.3,715.6 L521.5,715.2 L524.7,714.8 L527.9,714.4 L531.1,713.9 L534.2,713.5 L537.4,713.0 L540.6,712.6 L543.8,712.1 L547.0,711.6 L550.1,711.1 L553.3,710.6 L556.5,710.2 L559.7,709.7 L562.9,709.2 L566.0,708.8 L569.2,708.4 L572.4,708.0 L575.6,707.6 L578.8,707.2 L581.9,706.9 L585.1,706.5 L588.3,706.3 L591.5,706.0 L594.7,705.8 L597.8,705.5 L601.0,705.3 L604.2,705.1 L607.4,704.8 L610.6,704.6 L613.7,704.4 L616.9,704.2 L620.1,704.0 L623.3,703.8 L626.5,703.6 L629.6,703.4 L632.8,703.2 L636.0,703.1 L639.2,702.9 L642.4,702.8 L645.5,702.6 L648.7,702.5 L651.9,702.4 L655.1,702.3 L658.3,702.2 L661.4,702.1 L664.6,702.0 L667.8,702.0" stroke="#000080" stroke-width="4.3"/>
</g>
<g clip-path="url(#plotLc)" fill="none" stroke-linecap="butt">
<path d="M273.4,277.3 L275.7,281.7 L278.1,286.0 L280.4,290.3 L282.7,294.6 L285.1,298.8 L287.4,303.1 L289.7,307.4 L292.1,311.6 L294.4,315.9 L296.7,320.1 L299.1,324.3 L301.4,328.5 L303.7,332.7 L306.1,336.9 L308.4,341.1 L310.7,345.2 L313.1,349.3 L315.4,353.5 L317.7,357.6 L320.1,361.6 L322.4,365.7 L324.7,369.7 L327.1,373.7 L329.4,377.7 L331.7,381.7 L334.1,385.6 L336.4,389.5 L338.7,393.4 L341.1,397.2 L343.4,401.0 L345.7,404.8 L348.1,408.5 L350.4,412.2 L352.7,415.8 L355.1,419.4 L357.4,422.9 L359.7,426.4 L362.1,429.8 L364.4,433.1 L366.7,436.3 L369.1,439.5 L371.4,442.6 L373.7,445.6 L376.1,448.5 L378.4,451.2 L380.7,453.9 L383.1,456.4 L385.4,458.8 L387.7,461.1 L390.1,463.2 L392.4,465.2 L394.7,466.9 L397.1,468.5 L399.4,469.9 L401.7,471.1 L404.1,472.1 L406.4,472.9 L408.7,473.4 L411.1,473.8 L413.4,473.9 L415.7,473.8 L418.1,473.4 L420.4,472.9 L422.7,472.1 L425.1,471.1 L427.4,469.9 L429.7,468.5 L432.1,466.9 L434.4,465.2 L436.7,463.2 L439.1,461.1 L441.4,458.8 L443.7,456.4 L446.1,453.9 L448.4,451.2 L450.7,448.5 L453.1,445.6 L455.4,442.6 L457.7,439.5 L460.1,436.3 L462.4,433.1 L464.7,429.8 L467.1,426.4 L469.4,422.9 L471.7,419.4 L474.1,415.8 L476.4,412.2 L478.7,408.5 L481.1,404.8 L483.4,401.0 L485.7,397.2 L488.1,393.4 L490.4,389.5 L492.7,385.6 L495.1,381.7 L497.4,377.7 L499.7,373.7 L502.1,369.7 L504.4,365.7 L506.7,361.6 L509.1,357.6 L511.4,353.5 L513.7,349.3 L516.1,345.2 L518.4,341.1 L520.7,336.9 L523.1,332.7 L525.4,328.5 L527.7,324.3 L530.1,320.1 L532.4,315.9 L534.7,311.6 L537.1,307.4 L539.4,303.1 L541.7,298.8 L544.1,294.6 L546.4,290.3 L548.7,286.0 L551.1,281.7 L553.4,277.3" stroke="#858514" stroke-width="4"/>
<path d="M343.4,294.4 L344.6,296.0 L345.7,297.6 L346.9,299.2 L348.1,300.8 L349.2,302.4 L350.4,304.0 L351.6,305.6 L352.7,307.2 L353.9,308.7 L355.1,310.3 L356.2,311.9 L357.4,313.4 L358.6,314.9 L359.7,316.5 L360.9,318.0 L362.1,319.5 L363.2,321.0 L364.4,322.5 L365.6,323.9 L366.7,325.4 L367.9,326.8 L369.1,328.3 L370.2,329.7 L371.4,331.1 L372.6,332.5 L373.7,333.8 L374.9,335.2 L376.1,336.5 L377.2,337.8 L378.4,339.1 L379.6,340.4 L380.7,341.6 L381.9,342.8 L383.1,344.0 L384.2,345.2 L385.4,346.3 L386.6,347.5 L387.7,348.5 L388.9,349.6 L390.1,350.6 L391.2,351.6 L392.4,352.5 L393.6,353.4 L394.7,354.3 L395.9,355.1 L397.1,355.9 L398.2,356.7 L399.4,357.4 L400.6,358.0 L401.7,358.6 L402.9,359.1 L404.1,359.6 L405.2,360.1 L406.4,360.4 L407.6,360.8 L408.7,361.0 L409.9,361.2 L411.1,361.4 L412.2,361.5 L413.4,361.5 L414.6,361.5 L415.7,361.4 L416.9,361.2 L418.1,361.0 L419.2,360.8 L420.4,360.4 L421.6,360.1 L422.7,359.6 L423.9,359.1 L425.1,358.6 L426.2,358.0 L427.4,357.4 L428.6,356.7 L429.7,355.9 L430.9,355.1 L432.1,354.3 L433.2,353.4 L434.4,352.5 L435.6,351.6 L436.7,350.6 L437.9,349.6 L439.1,348.5 L440.2,347.5 L441.4,346.3 L442.6,345.2 L443.7,344.0 L444.9,342.8 L446.1,341.6 L447.2,340.4 L448.4,339.1 L449.6,337.8 L450.7,336.5 L451.9,335.2 L453.1,333.8 L454.2,332.5 L455.4,331.1 L456.6,329.7 L457.7,328.3 L458.9,326.8 L460.1,325.4 L461.2,323.9 L462.4,322.5 L463.6,321.0 L464.7,319.5 L465.9,318.0 L467.1,316.5 L468.2,314.9 L469.4,313.4 L470.6,311.9 L471.7,310.3 L472.9,308.7 L474.1,307.2 L475.2,305.6 L476.4,304.0 L477.6,302.4 L478.7,300.8 L479.9,299.2 L481.1,297.6 L482.2,296.0 L483.4,294.4" stroke="#c01fd6" stroke-width="4"/>
<path d="M373.4,293.5 L374.1,294.0 L374.7,294.5 L375.4,295.1 L376.1,295.6 L376.7,296.1 L377.4,296.6 L378.1,297.1 L378.7,297.5 L379.4,298.0 L380.1,298.5 L380.7,298.9 L381.4,299.4 L382.1,299.8 L382.7,300.2 L383.4,300.6 L384.1,301.0 L384.7,301.4 L385.4,301.8 L386.1,302.2 L386.7,302.5 L387.4,302.9 L388.1,303.3 L388.7,303.6 L389.4,303.9 L390.1,304.2 L390.7,304.6 L391.4,304.9 L392.1,305.2 L392.7,305.4 L393.4,305.7 L394.1,306.0 L394.7,306.2 L395.4,306.5 L396.1,306.7 L396.7,307.0 L397.4,307.2 L398.1,307.4 L398.7,307.6 L399.4,307.8 L400.1,308.0 L400.7,308.2 L401.4,308.3 L402.1,308.5 L402.7,308.6 L403.4,308.8 L404.1,308.9 L404.7,309.0 L405.4,309.1 L406.1,309.3 L406.7,309.3 L407.4,309.4 L408.1,309.5 L408.7,309.6 L409.4,309.6 L410.1,309.7 L410.7,309.7 L411.4,309.8 L412.1,309.8 L412.7,309.8 L413.4,309.8 L414.1,309.8 L414.7,309.8 L415.4,309.8 L416.1,309.7 L416.7,309.7 L417.4,309.6 L418.1,309.6 L418.7,309.5 L419.4,309.4 L420.1,309.3 L420.7,309.3 L421.4,309.1 L422.1,309.0 L422.7,308.9 L423.4,308.8 L424.1,308.6 L424.7,308.5 L425.4,308.3 L426.1,308.2 L426.7,308.0 L427.4,307.8 L428.1,307.6 L428.7,307.4 L429.4,307.2 L430.1,307.0 L430.7,306.7 L431.4,306.5 L432.1,306.2 L432.7,306.0 L433.4,305.7 L434.1,305.4 L434.7,305.2 L435.4,304.9 L436.1,304.6 L436.7,304.2 L437.4,303.9 L438.1,303.6 L438.7,303.3 L439.4,302.9 L440.1,302.5 L440.7,302.2 L441.4,301.8 L442.1,301.4 L442.7,301.0 L443.4,300.6 L444.1,300.2 L444.7,299.8 L445.4,299.4 L446.1,298.9 L446.7,298.5 L447.4,298.0 L448.1,297.5 L448.7,297.1 L449.4,296.6 L450.1,296.1 L450.7,295.6 L451.4,295.1 L452.1,294.5 L452.7,294.0 L453.4,293.5" stroke="#c01fd6" stroke-width="4"/>
</g>
<line x1="159" y1="519.3" x2="667" y2="519.3" stroke="#000" stroke-width="4.4" stroke-dasharray="31.6 13.7" stroke-dashoffset="0"/>
<line x1="413.4" y1="304.5" x2="413.4" y2="731.4" stroke="#000" stroke-width="4.3"/>
<g clip-path="url(#plotR)" fill="none" stroke-linejoin="round">
<path d="M834.1,651.2 L837.3,651.3 L840.5,651.3 L843.7,651.4 L847.0,651.5 L850.2,651.6 L853.4,651.7 L856.6,651.8 L859.8,652.0 L863.0,652.1 L866.3,652.2 L869.5,652.4 L872.7,652.5 L875.9,652.7 L879.1,652.8 L882.3,653.0 L885.6,653.2 L888.8,653.4 L892.0,653.7 L895.2,653.9 L898.4,654.1 L901.6,654.3 L904.9,654.6 L908.1,654.8 L911.3,655.0 L914.5,655.2 L917.7,655.5 L920.9,655.7 L924.2,656.0 L927.4,656.3 L930.6,656.5 L933.8,656.8 L937.0,657.0 L940.2,657.2 L943.5,657.3 L946.7,657.4 L949.9,657.5 L953.1,657.5 L956.3,657.6 L959.5,657.6 L962.8,657.6 L966.0,657.6 L969.2,657.7 L972.4,657.7 L975.6,657.7 L978.8,657.7 L982.0,657.7 L985.3,657.7 L988.5,657.6 L991.7,657.4 L994.9,657.1 L998.1,656.7 L1001.3,656.3 L1004.6,655.9 L1007.8,655.4 L1011.0,654.9 L1014.2,654.4 L1017.4,654.0 L1020.6,653.5 L1023.9,653.0 L1027.1,652.5 L1030.3,651.9 L1033.5,651.2 L1036.7,650.6 L1039.9,649.9 L1043.2,649.3 L1046.4,648.7 L1049.6,648.2 L1052.8,647.8 L1056.0,647.4 L1059.2,647.2 L1062.5,646.9 L1065.7,646.6 L1068.9,646.4 L1072.1,646.1 L1075.3,645.9 L1078.5,645.8 L1081.8,645.6 L1085.0,645.5 L1088.2,645.4 L1091.4,645.4 L1094.6,645.4 L1097.8,645.5 L1101.0,645.6 L1104.3,645.8 L1107.5,645.9 L1110.7,646.1 L1113.9,646.4 L1117.1,646.6 L1120.3,646.9 L1123.6,647.2 L1126.8,647.4 L1130.0,647.8 L1133.2,648.2 L1136.4,648.7 L1139.6,649.3 L1142.9,649.9 L1146.1,650.6 L1149.3,651.2 L1152.5,651.9 L1155.7,652.5 L1158.9,653.0 L1162.2,653.5 L1165.4,654.0 L1168.6,654.4 L1171.8,654.9 L1175.0,655.4 L1178.2,655.9 L1181.5,656.3 L1184.7,656.7 L1187.9,657.1 L1191.1,657.4 L1194.3,657.6 L1197.5,657.7 L1200.8,657.7 L1204.0,657.7 L1207.2,657.7 L1210.4,657.7 L1213.6,657.7 L1216.8,657.6 L1220.1,657.6 L1223.3,657.6 L1226.5,657.6 L1229.7,657.5 L1232.9,657.5 L1236.1,657.4 L1239.3,657.3 L1242.6,657.2 L1245.8,657.0 L1249.0,656.8 L1252.2,656.5 L1255.4,656.3 L1258.6,656.0 L1261.9,655.7 L1265.1,655.5 L1268.3,655.2 L1271.5,655.0 L1274.7,654.8 L1277.9,654.6 L1281.2,654.3 L1284.4,654.1 L1287.6,653.9 L1290.8,653.7 L1294.0,653.4 L1297.2,653.2 L1300.5,653.0 L1303.7,652.8 L1306.9,652.7 L1310.1,652.5 L1313.3,652.4 L1316.5,652.2 L1319.8,652.1 L1323.0,652.0 L1326.2,651.8 L1329.4,651.7 L1332.6,651.6 L1335.8,651.5 L1339.1,651.4 L1342.3,651.3 L1345.5,651.3 L1348.7,651.2" stroke="#000080" stroke-width="4.3"/>
<path d="M834.1,712.0 L837.3,711.8 L840.5,711.6 L843.7,711.3 L847.0,711.0 L850.2,710.7 L853.4,710.4 L856.6,710.0 L859.8,709.6 L863.0,709.2 L866.3,708.8 L869.5,708.4 L872.7,707.9 L875.9,707.5 L879.1,707.0 L882.3,706.5 L885.6,706.0 L888.8,705.5 L892.0,704.9 L895.2,704.4 L898.4,703.8 L901.6,703.1 L904.9,702.5 L908.1,701.7 L911.3,701.0 L914.5,700.2 L917.7,699.4 L920.9,698.5 L924.2,697.6 L927.4,696.6 L930.6,695.5 L933.8,694.3 L937.0,693.0 L940.2,691.7 L943.5,690.2 L946.7,688.7 L949.9,687.2 L953.1,685.6 L956.3,684.0 L959.5,682.4 L962.8,680.5 L966.0,678.6 L969.2,676.6 L972.4,674.6 L975.6,672.7 L978.8,670.8 L982.0,669.1 L985.3,667.6 L988.5,666.1 L991.7,664.6 L994.9,663.1 L998.1,661.6 L1001.3,660.2 L1004.6,658.9 L1007.8,657.6 L1011.0,656.4 L1014.2,655.3 L1017.4,654.4 L1020.6,653.5 L1023.9,652.7 L1027.1,652.0 L1030.3,651.3 L1033.5,650.7 L1036.7,650.1 L1039.9,649.5 L1043.2,649.0 L1046.4,648.5 L1049.6,648.1 L1052.8,647.7 L1056.0,647.4 L1059.2,647.2 L1062.5,646.9 L1065.7,646.6 L1068.9,646.4 L1072.1,646.1 L1075.3,645.9 L1078.5,645.8 L1081.8,645.6 L1085.0,645.5 L1088.2,645.4 L1091.4,645.4 L1094.6,645.4 L1097.8,645.5 L1101.0,645.6 L1104.3,645.8 L1107.5,645.9 L1110.7,646.1 L1113.9,646.4 L1117.1,646.6 L1120.3,646.9 L1123.6,647.2 L1126.8,647.4 L1130.0,647.7 L1133.2,648.1 L1136.4,648.5 L1139.6,649.0 L1142.9,649.5 L1146.1,650.1 L1149.3,650.7 L1152.5,651.3 L1155.7,652.0 L1158.9,652.7 L1162.2,653.5 L1165.4,654.4 L1168.6,655.3 L1171.8,656.4 L1175.0,657.6 L1178.2,658.9 L1181.5,660.2 L1184.7,661.6 L1187.9,663.1 L1191.1,664.6 L1194.3,666.1 L1197.5,667.6 L1200.8,669.1 L1204.0,670.8 L1207.2,672.7 L1210.4,674.6 L1213.6,676.6 L1216.8,678.6 L1220.1,680.5 L1223.3,682.4 L1226.5,684.0 L1229.7,685.6 L1232.9,687.2 L1236.1,688.7 L1239.3,690.2 L1242.6,691.7 L1245.8,693.0 L1249.0,694.3 L1252.2,695.5 L1255.4,696.6 L1258.6,697.6 L1261.9,698.5 L1265.1,699.4 L1268.3,700.2 L1271.5,701.0 L1274.7,701.7 L1277.9,702.5 L1281.2,703.1 L1284.4,703.8 L1287.6,704.4 L1290.8,704.9 L1294.0,705.5 L1297.2,706.0 L1300.5,706.5 L1303.7,707.0 L1306.9,707.5 L1310.1,707.9 L1313.3,708.4 L1316.5,708.8 L1319.8,709.2 L1323.0,709.6 L1326.2,710.0 L1329.4,710.4 L1332.6,710.7 L1335.8,711.0 L1339.1,711.3 L1342.3,711.6 L1345.5,711.8 L1348.7,712.0" stroke="#000080" stroke-width="4.3"/>
<path d="M834.1,662.7 L837.3,662.9 L840.5,663.1 L843.7,663.4 L847.0,663.7 L850.2,664.0 L853.4,664.3 L856.6,664.6 L859.8,665.0 L863.0,665.4 L866.3,665.8 L869.5,666.3 L872.7,666.8 L875.9,667.3 L879.1,667.8 L882.3,668.4 L885.6,669.0 L888.8,669.6 L892.0,670.3 L895.2,671.0 L898.4,671.7 L901.6,672.4 L904.9,673.2 L908.1,674.0 L911.3,674.8 L914.5,675.6 L917.7,676.4 L920.9,677.2 L924.2,678.0 L927.4,678.8 L930.6,679.7 L933.8,680.6 L937.0,681.5 L940.2,682.4 L943.5,683.3 L946.7,684.2 L949.9,685.1 L953.1,685.9 L956.3,686.7 L959.5,687.4 L962.8,688.1 L966.0,688.8 L969.2,689.5 L972.4,690.1 L975.6,690.8 L978.8,691.4 L982.0,691.9 L985.3,692.5 L988.5,693.0 L991.7,693.5 L994.9,694.0 L998.1,694.5 L1001.3,695.0 L1004.6,695.5 L1007.8,696.0 L1011.0,696.4 L1014.2,696.9 L1017.4,697.3 L1020.6,697.7 L1023.9,698.1 L1027.1,698.4 L1030.3,698.8 L1033.5,699.0 L1036.7,699.3 L1039.9,699.5 L1043.2,699.7 L1046.4,699.9 L1049.6,700.1 L1052.8,700.2 L1056.0,700.4 L1059.2,700.6 L1062.5,700.7 L1065.7,700.9 L1068.9,701.0 L1072.1,701.1 L1075.3,701.2 L1078.5,701.3 L1081.8,701.4 L1085.0,701.5 L1088.2,701.5 L1091.4,701.5 L1094.6,701.5 L1097.8,701.5 L1101.0,701.4 L1104.3,701.3 L1107.5,701.2 L1110.7,701.1 L1113.9,701.0 L1117.1,700.9 L1120.3,700.7 L1123.6,700.6 L1126.8,700.4 L1130.0,700.2 L1133.2,700.1 L1136.4,699.9 L1139.6,699.7 L1142.9,699.5 L1146.1,699.3 L1149.3,699.0 L1152.5,698.8 L1155.7,698.4 L1158.9,698.1 L1162.2,697.7 L1165.4,697.3 L1168.6,696.9 L1171.8,696.4 L1175.0,696.0 L1178.2,695.5 L1181.5,695.0 L1184.7,694.5 L1187.9,694.0 L1191.1,693.5 L1194.3,693.0 L1197.5,692.5 L1200.8,691.9 L1204.0,691.4 L1207.2,690.8 L1210.4,690.1 L1213.6,689.5 L1216.8,688.8 L1220.1,688.1 L1223.3,687.4 L1226.5,686.7 L1229.7,685.9 L1232.9,685.1 L1236.1,684.2 L1239.3,683.3 L1242.6,682.4 L1245.8,681.5 L1249.0,680.6 L1252.2,679.7 L1255.4,678.8 L1258.6,678.0 L1261.9,677.2 L1265.1,676.4 L1268.3,675.6 L1271.5,674.8 L1274.7,674.0 L1277.9,673.2 L1281.2,672.4 L1284.4,671.7 L1287.6,671.0 L1290.8,670.3 L1294.0,669.6 L1297.2,669.0 L1300.5,668.4 L1303.7,667.8 L1306.9,667.3 L1310.1,666.8 L1313.3,666.3 L1316.5,665.8 L1319.8,665.4 L1323.0,665.0 L1326.2,664.6 L1329.4,664.3 L1332.6,664.0 L1335.8,663.7 L1339.1,663.4 L1342.3,663.1 L1345.5,662.9 L1348.7,662.7" stroke="#000080" stroke-width="4.3"/>
<path d="M834.1,672.0 L837.3,672.1 L840.5,672.2 L843.7,672.3 L847.0,672.5 L850.2,672.7 L853.4,672.9 L856.6,673.1 L859.8,673.4 L863.0,673.7 L866.3,674.0 L869.5,674.3 L872.7,674.6 L875.9,675.0 L879.1,675.3 L882.3,675.6 L885.6,676.0 L888.8,676.4 L892.0,676.9 L895.2,677.4 L898.4,677.9 L901.6,678.5 L904.9,679.2 L908.1,679.8 L911.3,680.5 L914.5,681.1 L917.7,681.8 L920.9,682.4 L924.2,683.0 L927.4,683.6 L930.6,684.2 L933.8,684.8 L937.0,685.4 L940.2,686.0 L943.5,686.6 L946.7,687.2 L949.9,687.8 L953.1,688.4 L956.3,688.9 L959.5,689.5 L962.8,690.0 L966.0,690.5 L969.2,691.0 L972.4,691.5 L975.6,692.0 L978.8,692.5 L982.0,693.0 L985.3,693.5 L988.5,694.0 L991.7,694.4 L994.9,694.9 L998.1,695.3 L1001.3,695.7 L1004.6,696.0 L1007.8,696.4 L1011.0,696.7 L1014.2,697.0 L1017.4,697.3 L1020.6,697.5 L1023.9,697.8 L1027.1,698.1 L1030.3,698.3 L1033.5,698.6 L1036.7,698.9 L1039.9,699.1 L1043.2,699.4 L1046.4,699.6 L1049.6,699.8 L1052.8,700.1 L1056.0,700.3 L1059.2,700.5 L1062.5,700.6 L1065.7,700.8 L1068.9,701.0 L1072.1,701.1 L1075.3,701.2 L1078.5,701.3 L1081.8,701.4 L1085.0,701.5 L1088.2,701.5 L1091.4,701.5 L1094.6,701.5 L1097.8,701.5 L1101.0,701.4 L1104.3,701.3 L1107.5,701.2 L1110.7,701.1 L1113.9,701.0 L1117.1,700.8 L1120.3,700.6 L1123.6,700.5 L1126.8,700.3 L1130.0,700.1 L1133.2,699.8 L1136.4,699.6 L1139.6,699.4 L1142.9,699.1 L1146.1,698.9 L1149.3,698.6 L1152.5,698.3 L1155.7,698.1 L1158.9,697.8 L1162.2,697.5 L1165.4,697.3 L1168.6,697.0 L1171.8,696.7 L1175.0,696.4 L1178.2,696.0 L1181.5,695.7 L1184.7,695.3 L1187.9,694.9 L1191.1,694.4 L1194.3,694.0 L1197.5,693.5 L1200.8,693.0 L1204.0,692.5 L1207.2,692.0 L1210.4,691.5 L1213.6,691.0 L1216.8,690.5 L1220.1,690.0 L1223.3,689.5 L1226.5,688.9 L1229.7,688.4 L1232.9,687.8 L1236.1,687.2 L1239.3,686.6 L1242.6,686.0 L1245.8,685.4 L1249.0,684.8 L1252.2,684.2 L1255.4,683.6 L1258.6,683.0 L1261.9,682.4 L1265.1,681.8 L1268.3,681.1 L1271.5,680.5 L1274.7,679.8 L1277.9,679.2 L1281.2,678.5 L1284.4,677.9 L1287.6,677.4 L1290.8,676.9 L1294.0,676.4 L1297.2,676.0 L1300.5,675.6 L1303.7,675.3 L1306.9,675.0 L1310.1,674.6 L1313.3,674.3 L1316.5,674.0 L1319.8,673.7 L1323.0,673.4 L1326.2,673.1 L1329.4,672.9 L1332.6,672.7 L1335.8,672.5 L1339.1,672.3 L1342.3,672.2 L1345.5,672.1 L1348.7,672.0" stroke="#000080" stroke-width="4.3"/>
<path d="M834.1,676.0 L837.3,676.1 L840.5,676.2 L843.7,676.4 L847.0,676.6 L850.2,676.8 L853.4,677.0 L856.6,677.2 L859.8,677.5 L863.0,677.8 L866.3,678.1 L869.5,678.4 L872.7,678.7 L875.9,679.0 L879.1,679.3 L882.3,679.7 L885.6,680.0 L888.8,680.4 L892.0,680.8 L895.2,681.3 L898.4,681.8 L901.6,682.3 L904.9,682.9 L908.1,683.5 L911.3,684.1 L914.5,684.8 L917.7,685.4 L920.9,686.0 L924.2,686.7 L927.4,687.3 L930.6,687.9 L933.8,688.5 L937.0,689.0 L940.2,689.5 L943.5,690.1 L946.7,690.6 L949.9,691.2 L953.1,691.7 L956.3,692.2 L959.5,692.8 L962.8,693.3 L966.0,693.8 L969.2,694.3 L972.4,694.8 L975.6,695.3 L978.8,695.7 L982.0,696.2 L985.3,696.6 L988.5,697.0 L991.7,697.4 L994.9,697.8 L998.1,698.1 L1001.3,698.5 L1004.6,698.8 L1007.8,699.2 L1011.0,699.5 L1014.2,699.9 L1017.4,700.2 L1020.6,700.5 L1023.9,700.8 L1027.1,701.0 L1030.3,701.3 L1033.5,701.6 L1036.7,701.8 L1039.9,702.0 L1043.2,702.2 L1046.4,702.4 L1049.6,702.6 L1052.8,702.9 L1056.0,703.1 L1059.2,703.3 L1062.5,703.5 L1065.7,703.7 L1068.9,703.8 L1072.1,704.0 L1075.3,704.1 L1078.5,704.3 L1081.8,704.4 L1085.0,704.4 L1088.2,704.5 L1091.4,704.5 L1094.6,704.5 L1097.8,704.4 L1101.0,704.4 L1104.3,704.3 L1107.5,704.1 L1110.7,704.0 L1113.9,703.8 L1117.1,703.7 L1120.3,703.5 L1123.6,703.3 L1126.8,703.1 L1130.0,702.9 L1133.2,702.6 L1136.4,702.4 L1139.6,702.2 L1142.9,702.0 L1146.1,701.8 L1149.3,701.6 L1152.5,701.3 L1155.7,701.0 L1158.9,700.8 L1162.2,700.5 L1165.4,700.2 L1168.6,699.9 L1171.8,699.5 L1175.0,699.2 L1178.2,698.8 L1181.5,698.5 L1184.7,698.1 L1187.9,697.8 L1191.1,697.4 L1194.3,697.0 L1197.5,696.6 L1200.8,696.2 L1204.0,695.7 L1207.2,695.3 L1210.4,694.8 L1213.6,694.3 L1216.8,693.8 L1220.1,693.3 L1223.3,692.8 L1226.5,692.2 L1229.7,691.7 L1232.9,691.2 L1236.1,690.6 L1239.3,690.1 L1242.6,689.5 L1245.8,689.0 L1249.0,688.5 L1252.2,687.9 L1255.4,687.3 L1258.6,686.7 L1261.9,686.0 L1265.1,685.4 L1268.3,684.8 L1271.5,684.1 L1274.7,683.5 L1277.9,682.9 L1281.2,682.3 L1284.4,681.8 L1287.6,681.3 L1290.8,680.8 L1294.0,680.4 L1297.2,680.0 L1300.5,679.7 L1303.7,679.3 L1306.9,679.0 L1310.1,678.7 L1313.3,678.4 L1316.5,678.1 L1319.8,677.8 L1323.0,677.5 L1326.2,677.2 L1329.4,677.0 L1332.6,676.8 L1335.8,676.6 L1339.1,676.4 L1342.3,676.2 L1345.5,676.1 L1348.7,676.0" stroke="#000080" stroke-width="4.3"/>
<path d="M834.1,687.7 L837.3,687.5 L840.5,687.4 L843.7,687.3 L847.0,687.2 L850.2,687.1 L853.4,687.1 L856.6,687.1 L859.8,687.0 L863.0,687.0 L866.3,687.0 L869.5,687.0 L872.7,687.0 L875.9,687.0 L879.1,687.2 L882.3,687.4 L885.6,687.7 L888.8,688.0 L892.0,688.4 L895.2,688.9 L898.4,689.3 L901.6,689.7 L904.9,690.2 L908.1,690.6 L911.3,691.0 L914.5,691.4 L917.7,691.8 L920.9,692.2 L924.2,692.7 L927.4,693.1 L930.6,693.6 L933.8,694.1 L937.0,694.5 L940.2,695.0 L943.5,695.5 L946.7,695.9 L949.9,696.4 L953.1,696.8 L956.3,697.2 L959.5,697.6 L962.8,698.0 L966.0,698.4 L969.2,698.7 L972.4,699.1 L975.6,699.5 L978.8,699.9 L982.0,700.3 L985.3,700.7 L988.5,701.0 L991.7,701.4 L994.9,701.7 L998.1,702.0 L1001.3,702.2 L1004.6,702.5 L1007.8,702.7 L1011.0,702.9 L1014.2,703.0 L1017.4,703.1 L1020.6,703.2 L1023.9,703.3 L1027.1,703.4 L1030.3,703.5 L1033.5,703.6 L1036.7,703.7 L1039.9,703.8 L1043.2,703.9 L1046.4,703.9 L1049.6,704.0 L1052.8,704.1 L1056.0,704.1 L1059.2,704.2 L1062.5,704.3 L1065.7,704.3 L1068.9,704.3 L1072.1,704.4 L1075.3,704.4 L1078.5,704.4 L1081.8,704.5 L1085.0,704.5 L1088.2,704.5 L1091.4,704.5 L1094.6,704.5 L1097.8,704.5 L1101.0,704.5 L1104.3,704.4 L1107.5,704.4 L1110.7,704.4 L1113.9,704.3 L1117.1,704.3 L1120.3,704.3 L1123.6,704.2 L1126.8,704.1 L1130.0,704.1 L1133.2,704.0 L1136.4,703.9 L1139.6,703.9 L1142.9,703.8 L1146.1,703.7 L1149.3,703.6 L1152.5,703.5 L1155.7,703.4 L1158.9,703.3 L1162.2,703.2 L1165.4,703.1 L1168.6,703.0 L1171.8,702.9 L1175.0,702.7 L1178.2,702.5 L1181.5,702.2 L1184.7,702.0 L1187.9,701.7 L1191.1,701.4 L1194.3,701.0 L1197.5,700.7 L1200.8,700.3 L1204.0,699.9 L1207.2,699.5 L1210.4,699.1 L1213.6,698.7 L1216.8,698.4 L1220.1,698.0 L1223.3,697.6 L1226.5,697.2 L1229.7,696.8 L1232.9,696.4 L1236.1,695.9 L1239.3,695.5 L1242.6,695.0 L1245.8,694.5 L1249.0,694.1 L1252.2,693.6 L1255.4,693.1 L1258.6,692.7 L1261.9,692.2 L1265.1,691.8 L1268.3,691.4 L1271.5,691.0 L1274.7,690.6 L1277.9,690.2 L1281.2,689.7 L1284.4,689.3 L1287.6,688.9 L1290.8,688.4 L1294.0,688.0 L1297.2,687.7 L1300.5,687.4 L1303.7,687.2 L1306.9,687.0 L1310.1,687.0 L1313.3,687.0 L1316.5,687.0 L1319.8,687.0 L1323.0,687.0 L1326.2,687.1 L1329.4,687.1 L1332.6,687.1 L1335.8,687.2 L1339.1,687.3 L1342.3,687.4 L1345.5,687.5 L1348.7,687.7" stroke="#000080" stroke-width="4.3"/>
<path d="M834.1,703.0 L837.3,702.8 L840.5,702.5 L843.7,702.3 L847.0,702.1 L850.2,701.9 L853.4,701.8 L856.6,701.6 L859.8,701.5 L863.0,701.4 L866.3,701.3 L869.5,701.2 L872.7,701.1 L875.9,701.1 L879.1,701.0 L882.3,701.0 L885.6,701.0 L888.8,701.0 L892.0,701.1 L895.2,701.1 L898.4,701.2 L901.6,701.3 L904.9,701.4 L908.1,701.5 L911.3,701.7 L914.5,701.8 L917.7,702.0 L920.9,702.2 L924.2,702.3 L927.4,702.5 L930.6,702.7 L933.8,702.8 L937.0,703.0 L940.2,703.2 L943.5,703.3 L946.7,703.5 L949.9,703.7 L953.1,703.9 L956.3,704.1 L959.5,704.4 L962.8,704.6 L966.0,704.8 L969.2,705.1 L972.4,705.3 L975.6,705.5 L978.8,705.8 L982.0,706.0 L985.3,706.3 L988.5,706.5 L991.7,706.7 L994.9,706.9 L998.1,707.1 L1001.3,707.3 L1004.6,707.5 L1007.8,707.7 L1011.0,707.9 L1014.2,708.0 L1017.4,708.1 L1020.6,708.3 L1023.9,708.4 L1027.1,708.6 L1030.3,708.7 L1033.5,708.9 L1036.7,709.0 L1039.9,709.1 L1043.2,709.3 L1046.4,709.4 L1049.6,709.5 L1052.8,709.7 L1056.0,709.8 L1059.2,709.9 L1062.5,710.0 L1065.7,710.1 L1068.9,710.2 L1072.1,710.3 L1075.3,710.3 L1078.5,710.4 L1081.8,710.4 L1085.0,710.5 L1088.2,710.5 L1091.4,710.5 L1094.6,710.5 L1097.8,710.5 L1101.0,710.4 L1104.3,710.4 L1107.5,710.3 L1110.7,710.3 L1113.9,710.2 L1117.1,710.1 L1120.3,710.0 L1123.6,709.9 L1126.8,709.8 L1130.0,709.7 L1133.2,709.5 L1136.4,709.4 L1139.6,709.3 L1142.9,709.1 L1146.1,709.0 L1149.3,708.9 L1152.5,708.7 L1155.7,708.6 L1158.9,708.4 L1162.2,708.3 L1165.4,708.1 L1168.6,708.0 L1171.8,707.9 L1175.0,707.7 L1178.2,707.5 L1181.5,707.3 L1184.7,707.1 L1187.9,706.9 L1191.1,706.7 L1194.3,706.5 L1197.5,706.3 L1200.8,706.0 L1204.0,705.8 L1207.2,705.5 L1210.4,705.3 L1213.6,705.1 L1216.8,704.8 L1220.1,704.6 L1223.3,704.4 L1226.5,704.1 L1229.7,703.9 L1232.9,703.7 L1236.1,703.5 L1239.3,703.3 L1242.6,703.2 L1245.8,703.0 L1249.0,702.8 L1252.2,702.7 L1255.4,702.5 L1258.6,702.3 L1261.9,702.2 L1265.1,702.0 L1268.3,701.8 L1271.5,701.7 L1274.7,701.5 L1277.9,701.4 L1281.2,701.3 L1284.4,701.2 L1287.6,701.1 L1290.8,701.1 L1294.0,701.0 L1297.2,701.0 L1300.5,701.0 L1303.7,701.0 L1306.9,701.1 L1310.1,701.1 L1313.3,701.2 L1316.5,701.3 L1319.8,701.4 L1323.0,701.5 L1326.2,701.6 L1329.4,701.8 L1332.6,701.9 L1335.8,702.1 L1339.1,702.3 L1342.3,702.5 L1345.5,702.8 L1348.7,703.0" stroke="#000080" stroke-width="4.3"/>
<path d="M834.1,708.0 L837.3,708.3 L840.5,708.6 L843.7,708.9 L847.0,709.2 L850.2,709.5 L853.4,709.8 L856.6,710.0 L859.8,710.3 L863.0,710.5 L866.3,710.8 L869.5,711.0 L872.7,711.2 L875.9,711.4 L879.1,711.6 L882.3,711.8 L885.6,712.0 L888.8,712.2 L892.0,712.3 L895.2,712.5 L898.4,712.7 L901.6,712.9 L904.9,713.0 L908.1,713.2 L911.3,713.3 L914.5,713.5 L917.7,713.6 L920.9,713.7 L924.2,713.8 L927.4,713.9 L930.6,714.0 L933.8,714.0 L937.0,714.0 L940.2,714.0 L943.5,713.9 L946.7,713.9 L949.9,713.8 L953.1,713.7 L956.3,713.5 L959.5,713.4 L962.8,713.2 L966.0,713.1 L969.2,712.9 L972.4,712.7 L975.6,712.5 L978.8,712.3 L982.0,712.1 L985.3,711.9 L988.5,711.8 L991.7,711.6 L994.9,711.5 L998.1,711.3 L1001.3,711.2 L1004.6,711.1 L1007.8,711.1 L1011.0,711.0 L1014.2,711.0 L1017.4,711.0 L1020.6,711.0 L1023.9,711.1 L1027.1,711.1 L1030.3,711.2 L1033.5,711.3 L1036.7,711.4 L1039.9,711.5 L1043.2,711.6 L1046.4,711.8 L1049.6,711.9 L1052.8,712.0 L1056.0,712.1 L1059.2,712.2 L1062.5,712.4 L1065.7,712.5 L1068.9,712.6 L1072.1,712.7 L1075.3,712.8 L1078.5,712.9 L1081.8,712.9 L1085.0,713.0 L1088.2,713.0 L1091.4,713.0 L1094.6,713.0 L1097.8,713.0 L1101.0,712.9 L1104.3,712.9 L1107.5,712.8 L1110.7,712.7 L1113.9,712.6 L1117.1,712.5 L1120.3,712.4 L1123.6,712.2 L1126.8,712.1 L1130.0,712.0 L1133.2,711.9 L1136.4,711.8 L1139.6,711.6 L1142.9,711.5 L1146.1,711.4 L1149.3,711.3 L1152.5,711.2 L1155.7,711.1 L1158.9,711.1 L1162.2,711.0 L1165.4,711.0 L1168.6,711.0 L1171.8,711.0 L1175.0,711.1 L1178.2,711.1 L1181.5,711.2 L1184.7,711.3 L1187.9,711.5 L1191.1,711.6 L1194.3,711.8 L1197.5,711.9 L1200.8,712.1 L1204.0,712.3 L1207.2,712.5 L1210.4,712.7 L1213.6,712.9 L1216.8,713.1 L1220.1,713.2 L1223.3,713.4 L1226.5,713.5 L1229.7,713.7 L1232.9,713.8 L1236.1,713.9 L1239.3,713.9 L1242.6,714.0 L1245.8,714.0 L1249.0,714.0 L1252.2,714.0 L1255.4,713.9 L1258.6,713.8 L1261.9,713.7 L1265.1,713.6 L1268.3,713.5 L1271.5,713.3 L1274.7,713.2 L1277.9,713.0 L1281.2,712.9 L1284.4,712.7 L1287.6,712.5 L1290.8,712.3 L1294.0,712.2 L1297.2,712.0 L1300.5,711.8 L1303.7,711.6 L1306.9,711.4 L1310.1,711.2 L1313.3,711.0 L1316.5,710.8 L1319.8,710.5 L1323.0,710.3 L1326.2,710.0 L1329.4,709.8 L1332.6,709.5 L1335.8,709.2 L1339.1,708.9 L1342.3,708.6 L1345.5,708.3 L1348.7,708.0" stroke="#000080" stroke-width="4.3"/>
<path d="M834.1,716.0 L837.3,715.8 L840.5,715.7 L843.7,715.5 L847.0,715.3 L850.2,715.2 L853.4,715.0 L856.6,714.8 L859.8,714.7 L863.0,714.5 L866.3,714.3 L869.5,714.2 L872.7,714.0 L875.9,713.8 L879.1,713.6 L882.3,713.4 L885.6,713.2 L888.8,713.0 L892.0,712.8 L895.2,712.5 L898.4,712.4 L901.6,712.2 L904.9,712.1 L908.1,712.0 L911.3,712.0 L914.5,712.0 L917.7,712.2 L920.9,712.3 L924.2,712.6 L927.4,712.9 L930.6,713.2 L933.8,713.6 L937.0,714.1 L940.2,714.5 L943.5,715.0 L946.7,715.5 L949.9,716.0 L953.1,716.5 L956.3,717.0 L959.5,717.5 L962.8,717.9 L966.0,718.4 L969.2,718.8 L972.4,719.1 L975.6,719.4 L978.8,719.7 L982.0,719.8 L985.3,720.0 L988.5,720.0 L991.7,720.0 L994.9,720.0 L998.1,720.0 L1001.3,720.0 L1004.6,719.9 L1007.8,719.9 L1011.0,719.9 L1014.2,719.8 L1017.4,719.8 L1020.6,719.8 L1023.9,719.7 L1027.1,719.7 L1030.3,719.6 L1033.5,719.6 L1036.7,719.5 L1039.9,719.5 L1043.2,719.5 L1046.4,719.4 L1049.6,719.4 L1052.8,719.3 L1056.0,719.3 L1059.2,719.2 L1062.5,719.2 L1065.7,719.2 L1068.9,719.1 L1072.1,719.1 L1075.3,719.1 L1078.5,719.0 L1081.8,719.0 L1085.0,719.0 L1088.2,719.0 L1091.4,719.0 L1094.6,719.0 L1097.8,719.0 L1101.0,719.0 L1104.3,719.0 L1107.5,719.1 L1110.7,719.1 L1113.9,719.1 L1117.1,719.2 L1120.3,719.2 L1123.6,719.2 L1126.8,719.3 L1130.0,719.3 L1133.2,719.4 L1136.4,719.4 L1139.6,719.5 L1142.9,719.5 L1146.1,719.5 L1149.3,719.6 L1152.5,719.6 L1155.7,719.7 L1158.9,719.7 L1162.2,719.8 L1165.4,719.8 L1168.6,719.8 L1171.8,719.9 L1175.0,719.9 L1178.2,719.9 L1181.5,720.0 L1184.7,720.0 L1187.9,720.0 L1191.1,720.0 L1194.3,720.0 L1197.5,720.0 L1200.8,719.8 L1204.0,719.7 L1207.2,719.4 L1210.4,719.1 L1213.6,718.8 L1216.8,718.4 L1220.1,717.9 L1223.3,717.5 L1226.5,717.0 L1229.7,716.5 L1232.9,716.0 L1236.1,715.5 L1239.3,715.0 L1242.6,714.5 L1245.8,714.1 L1249.0,713.6 L1252.2,713.2 L1255.4,712.9 L1258.6,712.6 L1261.9,712.3 L1265.1,712.2 L1268.3,712.0 L1271.5,712.0 L1274.7,712.0 L1277.9,712.1 L1281.2,712.2 L1284.4,712.4 L1287.6,712.5 L1290.8,712.8 L1294.0,713.0 L1297.2,713.2 L1300.5,713.4 L1303.7,713.6 L1306.9,713.8 L1310.1,714.0 L1313.3,714.2 L1316.5,714.3 L1319.8,714.5 L1323.0,714.7 L1326.2,714.8 L1329.4,715.0 L1332.6,715.2 L1335.8,715.3 L1339.1,715.5 L1342.3,715.7 L1345.5,715.8 L1348.7,716.0" stroke="#000080" stroke-width="4.3"/>
<path d="M834.1,720.0 L837.3,720.0 L840.5,720.0 L843.7,720.0 L847.0,720.0 L850.2,720.0 L853.4,720.0 L856.6,720.0 L859.8,720.0 L863.0,720.0 L866.3,720.0 L869.5,720.0 L872.7,720.0 L875.9,720.0 L879.1,720.0 L882.3,720.0 L885.6,720.0 L888.8,720.0 L892.0,720.0 L895.2,720.0 L898.4,720.0 L901.6,720.0 L904.9,720.0 L908.1,720.0 L911.3,720.0 L914.5,720.0 L917.7,719.9 L920.9,719.7 L924.2,719.6 L927.4,719.3 L930.6,719.1 L933.8,718.8 L937.0,718.4 L940.2,718.1 L943.5,717.7 L946.7,717.4 L949.9,717.0 L953.1,716.6 L956.3,716.3 L959.5,715.9 L962.8,715.6 L966.0,715.2 L969.2,714.9 L972.4,714.7 L975.6,714.4 L978.8,714.3 L982.0,714.1 L985.3,714.0 L988.5,714.0 L991.7,714.0 L994.9,714.1 L998.1,714.1 L1001.3,714.2 L1004.6,714.3 L1007.8,714.5 L1011.0,714.6 L1014.2,714.8 L1017.4,715.0 L1020.6,715.2 L1023.9,715.4 L1027.1,715.6 L1030.3,715.8 L1033.5,716.0 L1036.7,716.3 L1039.9,716.5 L1043.2,716.7 L1046.4,717.0 L1049.6,717.2 L1052.8,717.4 L1056.0,717.6 L1059.2,717.8 L1062.5,718.0 L1065.7,718.2 L1068.9,718.4 L1072.1,718.5 L1075.3,718.7 L1078.5,718.8 L1081.8,718.9 L1085.0,718.9 L1088.2,719.0 L1091.4,719.0 L1094.6,719.0 L1097.8,718.9 L1101.0,718.9 L1104.3,718.8 L1107.5,718.7 L1110.7,718.5 L1113.9,718.4 L1117.1,718.2 L1120.3,718.0 L1123.6,717.8 L1126.8,717.6 L1130.0,717.4 L1133.2,717.2 L1136.4,717.0 L1139.6,716.7 L1142.9,716.5 L1146.1,716.3 L1149.3,716.0 L1152.5,715.8 L1155.7,715.6 L1158.9,715.4 L1162.2,715.2 L1165.4,715.0 L1168.6,714.8 L1171.8,714.6 L1175.0,714.5 L1178.2,714.3 L1181.5,714.2 L1184.7,714.1 L1187.9,714.1 L1191.1,714.0 L1194.3,714.0 L1197.5,714.0 L1200.8,714.1 L1204.0,714.3 L1207.2,714.4 L1210.4,714.7 L1213.6,714.9 L1216.8,715.2 L1220.1,715.6 L1223.3,715.9 L1226.5,716.3 L1229.7,716.6 L1232.9,717.0 L1236.1,717.4 L1239.3,717.7 L1242.6,718.1 L1245.8,718.4 L1249.0,718.8 L1252.2,719.1 L1255.4,719.3 L1258.6,719.6 L1261.9,719.7 L1265.1,719.9 L1268.3,720.0 L1271.5,720.0 L1274.7,720.0 L1277.9,720.0 L1281.2,720.0 L1284.4,720.0 L1287.6,720.0 L1290.8,720.0 L1294.0,720.0 L1297.2,720.0 L1300.5,720.0 L1303.7,720.0 L1306.9,720.0 L1310.1,720.0 L1313.3,720.0 L1316.5,720.0 L1319.8,720.0 L1323.0,720.0 L1326.2,720.0 L1329.4,720.0 L1332.6,720.0 L1335.8,720.0 L1339.1,720.0 L1342.3,720.0 L1345.5,720.0 L1348.7,720.0" stroke="#000080" stroke-width="4.3"/>
<path d="M834.1,724.0 L837.3,724.2 L840.5,724.4 L843.7,724.6 L847.0,724.8 L850.2,725.0 L853.4,725.2 L856.6,725.4 L859.8,725.6 L863.0,725.8 L866.3,726.0 L869.5,726.2 L872.7,726.3 L875.9,726.5 L879.1,726.7 L882.3,726.8 L885.6,727.0 L888.8,727.1 L892.0,727.3 L895.2,727.4 L898.4,727.6 L901.6,727.7 L904.9,727.8 L908.1,727.9 L911.3,728.1 L914.5,728.2 L917.7,728.3 L920.9,728.4 L924.2,728.5 L927.4,728.5 L930.6,728.6 L933.8,728.7 L937.0,728.8 L940.2,728.8 L943.5,728.9 L946.7,728.9 L949.9,728.9 L953.1,729.0 L956.3,729.0 L959.5,729.0 L962.8,729.0 L966.0,729.0 L969.2,729.0 L972.4,729.0 L975.6,728.9 L978.8,728.9 L982.0,728.9 L985.3,728.8 L988.5,728.8 L991.7,728.7 L994.9,728.7 L998.1,728.6 L1001.3,728.6 L1004.6,728.5 L1007.8,728.4 L1011.0,728.4 L1014.2,728.3 L1017.4,728.2 L1020.6,728.1 L1023.9,728.1 L1027.1,728.0 L1030.3,727.9 L1033.5,727.9 L1036.7,727.8 L1039.9,727.7 L1043.2,727.6 L1046.4,727.6 L1049.6,727.5 L1052.8,727.4 L1056.0,727.4 L1059.2,727.3 L1062.5,727.3 L1065.7,727.2 L1068.9,727.2 L1072.1,727.1 L1075.3,727.1 L1078.5,727.1 L1081.8,727.0 L1085.0,727.0 L1088.2,727.0 L1091.4,727.0 L1094.6,727.0 L1097.8,727.0 L1101.0,727.0 L1104.3,727.1 L1107.5,727.1 L1110.7,727.1 L1113.9,727.2 L1117.1,727.2 L1120.3,727.3 L1123.6,727.3 L1126.8,727.4 L1130.0,727.4 L1133.2,727.5 L1136.4,727.6 L1139.6,727.6 L1142.9,727.7 L1146.1,727.8 L1149.3,727.9 L1152.5,727.9 L1155.7,728.0 L1158.9,728.1 L1162.2,728.1 L1165.4,728.2 L1168.6,728.3 L1171.8,728.4 L1175.0,728.4 L1178.2,728.5 L1181.5,728.6 L1184.7,728.6 L1187.9,728.7 L1191.1,728.7 L1194.3,728.8 L1197.5,728.8 L1200.8,728.9 L1204.0,728.9 L1207.2,728.9 L1210.4,729.0 L1213.6,729.0 L1216.8,729.0 L1220.1,729.0 L1223.3,729.0 L1226.5,729.0 L1229.7,729.0 L1232.9,728.9 L1236.1,728.9 L1239.3,728.9 L1242.6,728.8 L1245.8,728.8 L1249.0,728.7 L1252.2,728.6 L1255.4,728.5 L1258.6,728.5 L1261.9,728.4 L1265.1,728.3 L1268.3,728.2 L1271.5,728.1 L1274.7,727.9 L1277.9,727.8 L1281.2,727.7 L1284.4,727.6 L1287.6,727.4 L1290.8,727.3 L1294.0,727.1 L1297.2,727.0 L1300.5,726.8 L1303.7,726.7 L1306.9,726.5 L1310.1,726.3 L1313.3,726.2 L1316.5,726.0 L1319.8,725.8 L1323.0,725.6 L1326.2,725.4 L1329.4,725.2 L1332.6,725.0 L1335.8,724.8 L1339.1,724.6 L1342.3,724.4 L1345.5,724.2 L1348.7,724.0" stroke="#000080" stroke-width="4.3"/>
<path d="M834.1,727.0 L837.3,726.8 L840.5,726.6 L843.7,726.3 L847.0,726.1 L850.2,725.9 L853.4,725.8 L856.6,725.6 L859.8,725.4 L863.0,725.2 L866.3,725.1 L869.5,724.9 L872.7,724.8 L875.9,724.6 L879.1,724.5 L882.3,724.4 L885.6,724.3 L888.8,724.1 L892.0,724.0 L895.2,723.9 L898.4,723.8 L901.6,723.8 L904.9,723.7 L908.1,723.6 L911.3,723.5 L914.5,723.5 L917.7,723.4 L920.9,723.3 L924.2,723.3 L927.4,723.2 L930.6,723.2 L933.8,723.2 L937.0,723.1 L940.2,723.1 L943.5,723.1 L946.7,723.0 L949.9,723.0 L953.1,723.0 L956.3,723.0 L959.5,723.0 L962.8,723.0 L966.0,723.0 L969.2,723.0 L972.4,723.1 L975.6,723.2 L978.8,723.3 L982.0,723.4 L985.3,723.5 L988.5,723.7 L991.7,723.8 L994.9,724.0 L998.1,724.2 L1001.3,724.4 L1004.6,724.6 L1007.8,724.8 L1011.0,725.1 L1014.2,725.3 L1017.4,725.5 L1020.6,725.8 L1023.9,726.0 L1027.1,726.2 L1030.3,726.5 L1033.5,726.7 L1036.7,727.0 L1039.9,727.2 L1043.2,727.4 L1046.4,727.7 L1049.6,727.9 L1052.8,728.1 L1056.0,728.3 L1059.2,728.5 L1062.5,728.7 L1065.7,728.8 L1068.9,729.0 L1072.1,729.1 L1075.3,729.2 L1078.5,729.3 L1081.8,729.4 L1085.0,729.5 L1088.2,729.5 L1091.4,729.5 L1094.6,729.5 L1097.8,729.5 L1101.0,729.4 L1104.3,729.3 L1107.5,729.2 L1110.7,729.1 L1113.9,729.0 L1117.1,728.8 L1120.3,728.7 L1123.6,728.5 L1126.8,728.3 L1130.0,728.1 L1133.2,727.9 L1136.4,727.7 L1139.6,727.4 L1142.9,727.2 L1146.1,727.0 L1149.3,726.7 L1152.5,726.5 L1155.7,726.2 L1158.9,726.0 L1162.2,725.8 L1165.4,725.5 L1168.6,725.3 L1171.8,725.1 L1175.0,724.8 L1178.2,724.6 L1181.5,724.4 L1184.7,724.2 L1187.9,724.0 L1191.1,723.8 L1194.3,723.7 L1197.5,723.5 L1200.8,723.4 L1204.0,723.3 L1207.2,723.2 L1210.4,723.1 L1213.6,723.0 L1216.8,723.0 L1220.1,723.0 L1223.3,723.0 L1226.5,723.0 L1229.7,723.0 L1232.9,723.0 L1236.1,723.0 L1239.3,723.1 L1242.6,723.1 L1245.8,723.1 L1249.0,723.2 L1252.2,723.2 L1255.4,723.2 L1258.6,723.3 L1261.9,723.3 L1265.1,723.4 L1268.3,723.5 L1271.5,723.5 L1274.7,723.6 L1277.9,723.7 L1281.2,723.8 L1284.4,723.8 L1287.6,723.9 L1290.8,724.0 L1294.0,724.1 L1297.2,724.3 L1300.5,724.4 L1303.7,724.5 L1306.9,724.6 L1310.1,724.8 L1313.3,724.9 L1316.5,725.1 L1319.8,725.2 L1323.0,725.4 L1326.2,725.6 L1329.4,725.8 L1332.6,725.9 L1335.8,726.1 L1339.1,726.3 L1342.3,726.6 L1345.5,726.8 L1348.7,727.0" stroke="#000080" stroke-width="4.3"/>
<path d="M834.1,730.0 L837.3,730.1 L840.5,730.2 L843.7,730.3 L847.0,730.4 L850.2,730.5 L853.4,730.6 L856.6,730.7 L859.8,730.8 L863.0,730.8 L866.3,730.9 L869.5,731.0 L872.7,731.1 L875.9,731.1 L879.1,731.2 L882.3,731.3 L885.6,731.3 L888.8,731.4 L892.0,731.4 L895.2,731.5 L898.4,731.5 L901.6,731.6 L904.9,731.6 L908.1,731.7 L911.3,731.7 L914.5,731.7 L917.7,731.8 L920.9,731.8 L924.2,731.8 L927.4,731.9 L930.6,731.9 L933.8,731.9 L937.0,731.9 L940.2,731.9 L943.5,732.0 L946.7,732.0 L949.9,732.0 L953.1,732.0 L956.3,732.0 L959.5,732.0 L962.8,732.0 L966.0,732.0 L969.2,732.0 L972.4,732.0 L975.6,731.9 L978.8,731.9 L982.0,731.8 L985.3,731.8 L988.5,731.7 L991.7,731.7 L994.9,731.6 L998.1,731.5 L1001.3,731.5 L1004.6,731.4 L1007.8,731.3 L1011.0,731.2 L1014.2,731.1 L1017.4,731.0 L1020.6,730.9 L1023.9,730.8 L1027.1,730.8 L1030.3,730.7 L1033.5,730.6 L1036.7,730.5 L1039.9,730.4 L1043.2,730.3 L1046.4,730.2 L1049.6,730.1 L1052.8,730.0 L1056.0,730.0 L1059.2,729.9 L1062.5,729.8 L1065.7,729.8 L1068.9,729.7 L1072.1,729.7 L1075.3,729.6 L1078.5,729.6 L1081.8,729.5 L1085.0,729.5 L1088.2,729.5 L1091.4,729.5 L1094.6,729.5 L1097.8,729.5 L1101.0,729.5 L1104.3,729.6 L1107.5,729.6 L1110.7,729.7 L1113.9,729.7 L1117.1,729.8 L1120.3,729.8 L1123.6,729.9 L1126.8,730.0 L1130.0,730.0 L1133.2,730.1 L1136.4,730.2 L1139.6,730.3 L1142.9,730.4 L1146.1,730.5 L1149.3,730.6 L1152.5,730.7 L1155.7,730.8 L1158.9,730.8 L1162.2,730.9 L1165.4,731.0 L1168.6,731.1 L1171.8,731.2 L1175.0,731.3 L1178.2,731.4 L1181.5,731.5 L1184.7,731.5 L1187.9,731.6 L1191.1,731.7 L1194.3,731.7 L1197.5,731.8 L1200.8,731.8 L1204.0,731.9 L1207.2,731.9 L1210.4,732.0 L1213.6,732.0 L1216.8,732.0 L1220.1,732.0 L1223.3,732.0 L1226.5,732.0 L1229.7,732.0 L1232.9,732.0 L1236.1,732.0 L1239.3,732.0 L1242.6,731.9 L1245.8,731.9 L1249.0,731.9 L1252.2,731.9 L1255.4,731.9 L1258.6,731.8 L1261.9,731.8 L1265.1,731.8 L1268.3,731.7 L1271.5,731.7 L1274.7,731.7 L1277.9,731.6 L1281.2,731.6 L1284.4,731.5 L1287.6,731.5 L1290.8,731.4 L1294.0,731.4 L1297.2,731.3 L1300.5,731.3 L1303.7,731.2 L1306.9,731.1 L1310.1,731.1 L1313.3,731.0 L1316.5,730.9 L1319.8,730.8 L1323.0,730.8 L1326.2,730.7 L1329.4,730.6 L1332.6,730.5 L1335.8,730.4 L1339.1,730.3 L1342.3,730.2 L1345.5,730.1 L1348.7,730.0" stroke="#000080" stroke-width="4.3"/>
<path d="M834.1,714.0 L837.3,713.4 L840.5,712.9 L843.7,712.4 L847.0,711.8 L850.2,711.3 L853.4,710.9 L856.6,710.4 L859.8,709.9 L863.0,709.5 L866.3,709.1 L869.5,708.7 L872.7,708.3 L875.9,708.0 L879.1,707.6 L882.3,707.3 L885.6,707.1 L888.8,706.8 L892.0,706.6 L895.2,706.4 L898.4,706.3 L901.6,706.2 L904.9,706.1 L908.1,706.0 L911.3,706.0 L914.5,706.0 L917.7,706.0 L920.9,706.1 L924.2,706.2 L927.4,706.2 L930.6,706.3 L933.8,706.4 L937.0,706.6 L940.2,706.7 L943.5,706.8 L946.7,707.0 L949.9,707.1 L953.1,707.3 L956.3,707.4 L959.5,707.6 L962.8,707.8 L966.0,707.9 L969.2,708.1 L972.4,708.3 L975.6,708.4 L978.8,708.6 L982.0,708.7 L985.3,708.9 L988.5,709.0 L991.7,709.1 L994.9,709.3 L998.1,709.4 L1001.3,709.6 L1004.6,709.7 L1007.8,709.9 L1011.0,710.0 L1014.2,710.2 L1017.4,710.4 L1020.6,710.5 L1023.9,710.7 L1027.1,710.9 L1030.3,711.0 L1033.5,711.2 L1036.7,711.3 L1039.9,711.5 L1043.2,711.7 L1046.4,711.8 L1049.6,711.9 L1052.8,712.1 L1056.0,712.2 L1059.2,712.3 L1062.5,712.5 L1065.7,712.6 L1068.9,712.7 L1072.1,712.7 L1075.3,712.8 L1078.5,712.9 L1081.8,712.9 L1085.0,713.0 L1088.2,713.0 L1091.4,713.0 L1094.6,713.0 L1097.8,713.0 L1101.0,712.9 L1104.3,712.9 L1107.5,712.8 L1110.7,712.7 L1113.9,712.7 L1117.1,712.6 L1120.3,712.5 L1123.6,712.3 L1126.8,712.2 L1130.0,712.1 L1133.2,711.9 L1136.4,711.8 L1139.6,711.7 L1142.9,711.5 L1146.1,711.3 L1149.3,711.2 L1152.5,711.0 L1155.7,710.9 L1158.9,710.7 L1162.2,710.5 L1165.4,710.4 L1168.6,710.2 L1171.8,710.0 L1175.0,709.9 L1178.2,709.7 L1181.5,709.6 L1184.7,709.4 L1187.9,709.3 L1191.1,709.1 L1194.3,709.0 L1197.5,708.9 L1200.8,708.7 L1204.0,708.6 L1207.2,708.4 L1210.4,708.3 L1213.6,708.1 L1216.8,707.9 L1220.1,707.8 L1223.3,707.6 L1226.5,707.4 L1229.7,707.3 L1232.9,707.1 L1236.1,707.0 L1239.3,706.8 L1242.6,706.7 L1245.8,706.6 L1249.0,706.4 L1252.2,706.3 L1255.4,706.2 L1258.6,706.2 L1261.9,706.1 L1265.1,706.0 L1268.3,706.0 L1271.5,706.0 L1274.7,706.0 L1277.9,706.1 L1281.2,706.2 L1284.4,706.3 L1287.6,706.4 L1290.8,706.6 L1294.0,706.8 L1297.2,707.1 L1300.5,707.3 L1303.7,707.6 L1306.9,708.0 L1310.1,708.3 L1313.3,708.7 L1316.5,709.1 L1319.8,709.5 L1323.0,709.9 L1326.2,710.4 L1329.4,710.9 L1332.6,711.3 L1335.8,711.8 L1339.1,712.4 L1342.3,712.9 L1345.5,713.4 L1348.7,714.0" stroke="#000080" stroke-width="4.3"/>
<path d="M834.1,727.0 L837.3,726.8 L840.5,726.5 L843.7,726.2 L847.0,726.0 L850.2,725.8 L853.4,725.5 L856.6,725.2 L859.8,725.0 L863.0,724.8 L866.3,724.5 L869.5,724.2 L872.7,724.0 L875.9,723.8 L879.1,723.5 L882.3,723.2 L885.6,723.0 L888.8,722.7 L892.0,722.5 L895.2,722.2 L898.4,721.9 L901.6,721.5 L904.9,721.2 L908.1,720.9 L911.3,720.6 L914.5,720.2 L917.7,719.9 L920.9,719.6 L924.2,719.2 L927.4,718.9 L930.6,718.6 L933.8,718.4 L937.0,718.1 L940.2,717.9 L943.5,717.7 L946.7,717.5 L949.9,717.3 L953.1,717.2 L956.3,717.1 L959.5,717.0 L962.8,717.0 L966.0,717.0 L969.2,717.1 L972.4,717.2 L975.6,717.3 L978.8,717.4 L982.0,717.6 L985.3,717.8 L988.5,718.0 L991.7,718.3 L994.9,718.6 L998.1,718.9 L1001.3,719.2 L1004.6,719.5 L1007.8,719.8 L1011.0,720.2 L1014.2,720.5 L1017.4,720.9 L1020.6,721.3 L1023.9,721.6 L1027.1,722.0 L1030.3,722.4 L1033.5,722.7 L1036.7,723.1 L1039.9,723.5 L1043.2,723.8 L1046.4,724.2 L1049.6,724.5 L1052.8,724.8 L1056.0,725.1 L1059.2,725.4 L1062.5,725.7 L1065.7,726.0 L1068.9,726.2 L1072.1,726.4 L1075.3,726.6 L1078.5,726.7 L1081.8,726.8 L1085.0,726.9 L1088.2,727.0 L1091.4,727.0 L1094.6,727.0 L1097.8,726.9 L1101.0,726.8 L1104.3,726.7 L1107.5,726.6 L1110.7,726.4 L1113.9,726.2 L1117.1,726.0 L1120.3,725.7 L1123.6,725.4 L1126.8,725.1 L1130.0,724.8 L1133.2,724.5 L1136.4,724.2 L1139.6,723.8 L1142.9,723.5 L1146.1,723.1 L1149.3,722.7 L1152.5,722.4 L1155.7,722.0 L1158.9,721.6 L1162.2,721.3 L1165.4,720.9 L1168.6,720.5 L1171.8,720.2 L1175.0,719.8 L1178.2,719.5 L1181.5,719.2 L1184.7,718.9 L1187.9,718.6 L1191.1,718.3 L1194.3,718.0 L1197.5,717.8 L1200.8,717.6 L1204.0,717.4 L1207.2,717.3 L1210.4,717.2 L1213.6,717.1 L1216.8,717.0 L1220.1,717.0 L1223.3,717.0 L1226.5,717.1 L1229.7,717.2 L1232.9,717.3 L1236.1,717.5 L1239.3,717.7 L1242.6,717.9 L1245.8,718.1 L1249.0,718.4 L1252.2,718.6 L1255.4,718.9 L1258.6,719.2 L1261.9,719.6 L1265.1,719.9 L1268.3,720.2 L1271.5,720.6 L1274.7,720.9 L1277.9,721.2 L1281.2,721.5 L1284.4,721.9 L1287.6,722.2 L1290.8,722.5 L1294.0,722.7 L1297.2,723.0 L1300.5,723.2 L1303.7,723.5 L1306.9,723.8 L1310.1,724.0 L1313.3,724.2 L1316.5,724.5 L1319.8,724.8 L1323.0,725.0 L1326.2,725.2 L1329.4,725.5 L1332.6,725.8 L1335.8,726.0 L1339.1,726.2 L1342.3,726.5 L1345.5,726.8 L1348.7,727.0" stroke="#000080" stroke-width="4.3"/>
<path d="M834.1,721.0 L837.3,721.0 L840.5,720.9 L843.7,720.9 L847.0,720.9 L850.2,720.8 L853.4,720.8 L856.6,720.7 L859.8,720.6 L863.0,720.5 L866.3,720.5 L869.5,720.4 L872.7,720.3 L875.9,720.2 L879.1,720.1 L882.3,720.0 L885.6,719.9 L888.8,719.8 L892.0,719.7 L895.2,719.6 L898.4,719.5 L901.6,719.4 L904.9,719.2 L908.1,719.1 L911.3,719.0 L914.5,718.9 L917.7,718.7 L920.9,718.6 L924.2,718.4 L927.4,718.2 L930.6,718.0 L933.8,717.8 L937.0,717.5 L940.2,717.3 L943.5,717.1 L946.7,716.8 L949.9,716.6 L953.1,716.3 L956.3,716.1 L959.5,715.8 L962.8,715.6 L966.0,715.4 L969.2,715.1 L972.4,714.9 L975.6,714.7 L978.8,714.5 L982.0,714.3 L985.3,714.2 L988.5,714.0 L991.7,713.9 L994.9,713.7 L998.1,713.6 L1001.3,713.4 L1004.6,713.3 L1007.8,713.1 L1011.0,712.9 L1014.2,712.8 L1017.4,712.6 L1020.6,712.5 L1023.9,712.4 L1027.1,712.2 L1030.3,712.1 L1033.5,711.9 L1036.7,711.8 L1039.9,711.7 L1043.2,711.5 L1046.4,711.4 L1049.6,711.3 L1052.8,711.2 L1056.0,711.1 L1059.2,711.0 L1062.5,710.9 L1065.7,710.8 L1068.9,710.8 L1072.1,710.7 L1075.3,710.6 L1078.5,710.6 L1081.8,710.5 L1085.0,710.5 L1088.2,710.5 L1091.4,710.5 L1094.6,710.5 L1097.8,710.5 L1101.0,710.5 L1104.3,710.6 L1107.5,710.6 L1110.7,710.7 L1113.9,710.8 L1117.1,710.8 L1120.3,710.9 L1123.6,711.0 L1126.8,711.1 L1130.0,711.2 L1133.2,711.3 L1136.4,711.4 L1139.6,711.5 L1142.9,711.7 L1146.1,711.8 L1149.3,711.9 L1152.5,712.1 L1155.7,712.2 L1158.9,712.4 L1162.2,712.5 L1165.4,712.6 L1168.6,712.8 L1171.8,712.9 L1175.0,713.1 L1178.2,713.3 L1181.5,713.4 L1184.7,713.6 L1187.9,713.7 L1191.1,713.9 L1194.3,714.0 L1197.5,714.2 L1200.8,714.3 L1204.0,714.5 L1207.2,714.7 L1210.4,714.9 L1213.6,715.1 L1216.8,715.4 L1220.1,715.6 L1223.3,715.8 L1226.5,716.1 L1229.7,716.3 L1232.9,716.6 L1236.1,716.8 L1239.3,717.1 L1242.6,717.3 L1245.8,717.5 L1249.0,717.8 L1252.2,718.0 L1255.4,718.2 L1258.6,718.4 L1261.9,718.6 L1265.1,718.7 L1268.3,718.9 L1271.5,719.0 L1274.7,719.1 L1277.9,719.2 L1281.2,719.4 L1284.4,719.5 L1287.6,719.6 L1290.8,719.7 L1294.0,719.8 L1297.2,719.9 L1300.5,720.0 L1303.7,720.1 L1306.9,720.2 L1310.1,720.3 L1313.3,720.4 L1316.5,720.5 L1319.8,720.5 L1323.0,720.6 L1326.2,720.7 L1329.4,720.8 L1332.6,720.8 L1335.8,720.9 L1339.1,720.9 L1342.3,720.9 L1345.5,721.0 L1348.7,721.0" stroke="#000080" stroke-width="4.3"/>
</g>
<g clip-path="url(#plotRc)" fill="none" stroke-linecap="butt">
<path d="M1029.8,292.2 L1030.8,293.4 L1031.8,294.6 L1032.8,295.8 L1033.8,297.0 L1034.8,298.1 L1035.8,299.3 L1036.8,300.4 L1037.8,301.5 L1038.8,302.5 L1039.8,303.6 L1040.8,304.6 L1041.8,305.6 L1042.8,306.6 L1043.8,307.6 L1044.8,308.5 L1045.8,309.5 L1046.8,310.4 L1047.8,311.3 L1048.8,312.1 L1049.8,313.0 L1050.8,313.8 L1051.8,314.6 L1052.8,315.4 L1053.8,316.1 L1054.8,316.9 L1055.8,317.6 L1056.8,318.3 L1057.8,319.0 L1058.8,319.6 L1059.8,320.2 L1060.8,320.9 L1061.8,321.4 L1062.8,322.0 L1063.8,322.6 L1064.8,323.1 L1065.8,323.6 L1066.8,324.1 L1067.8,324.6 L1068.8,325.0 L1069.8,325.4 L1070.8,325.8 L1071.8,326.2 L1072.8,326.6 L1073.8,326.9 L1074.8,327.3 L1075.8,327.6 L1076.8,327.8 L1077.8,328.1 L1078.8,328.3 L1079.8,328.6 L1080.8,328.8 L1081.8,328.9 L1082.8,329.1 L1083.8,329.2 L1084.8,329.3 L1085.8,329.4 L1086.8,329.5 L1087.8,329.6 L1088.8,329.6 L1089.8,329.6 L1090.8,329.6 L1091.8,329.6 L1092.8,329.5 L1093.8,329.4 L1094.8,329.3 L1095.8,329.2 L1096.8,329.1 L1097.8,328.9 L1098.8,328.8 L1099.8,328.6 L1100.8,328.3 L1101.8,328.1 L1102.8,327.8 L1103.8,327.6 L1104.8,327.3 L1105.8,326.9 L1106.8,326.6 L1107.8,326.2 L1108.8,325.8 L1109.8,325.4 L1110.8,325.0 L1111.8,324.6 L1112.8,324.1 L1113.8,323.6 L1114.8,323.1 L1115.8,322.6 L1116.8,322.0 L1117.8,321.4 L1118.8,320.9 L1119.8,320.2 L1120.8,319.6 L1121.8,319.0 L1122.8,318.3 L1123.8,317.6 L1124.8,316.9 L1125.8,316.1 L1126.8,315.4 L1127.8,314.6 L1128.8,313.8 L1129.8,313.0 L1130.8,312.1 L1131.8,311.3 L1132.8,310.4 L1133.8,309.5 L1134.8,308.5 L1135.8,307.6 L1136.8,306.6 L1137.8,305.6 L1138.8,304.6 L1139.8,303.6 L1140.8,302.5 L1141.8,301.5 L1142.8,300.4 L1143.8,299.3 L1144.8,298.1 L1145.8,297.0 L1146.8,295.8 L1147.8,294.6 L1148.8,293.4 L1149.8,292.2" stroke="#858514" stroke-width="4"/>
<path d="M1004.8,285.8 L1006.2,288.9 L1007.6,292.0 L1009.0,295.0 L1010.5,298.0 L1011.9,300.9 L1013.3,303.7 L1014.7,306.5 L1016.1,309.3 L1017.5,312.0 L1019.0,314.7 L1020.4,317.3 L1021.8,319.8 L1023.2,322.3 L1024.6,324.8 L1026.0,327.2 L1027.5,329.5 L1028.9,331.8 L1030.3,334.0 L1031.7,336.2 L1033.1,338.3 L1034.5,340.4 L1036.0,342.4 L1037.4,344.4 L1038.8,346.3 L1040.2,348.2 L1041.6,350.0 L1043.0,351.8 L1044.5,353.5 L1045.9,355.1 L1047.3,356.7 L1048.7,358.3 L1050.1,359.8 L1051.5,361.2 L1053.0,362.6 L1054.4,364.0 L1055.8,365.3 L1057.2,366.5 L1058.6,367.7 L1060.0,368.8 L1061.5,369.9 L1062.9,370.9 L1064.3,371.9 L1065.7,372.8 L1067.1,373.7 L1068.5,374.5 L1070.0,375.2 L1071.4,376.0 L1072.8,376.6 L1074.2,377.2 L1075.6,377.8 L1077.0,378.3 L1078.5,378.7 L1079.9,379.1 L1081.3,379.5 L1082.7,379.7 L1084.1,380.0 L1085.5,380.2 L1087.0,380.3 L1088.4,380.4 L1089.8,380.4 L1091.2,380.4 L1092.6,380.3 L1094.0,380.2 L1095.5,380.0 L1096.9,379.7 L1098.3,379.5 L1099.7,379.1 L1101.1,378.7 L1102.5,378.3 L1104.0,377.8 L1105.4,377.2 L1106.8,376.6 L1108.2,376.0 L1109.6,375.2 L1111.0,374.5 L1112.5,373.7 L1113.9,372.8 L1115.3,371.9 L1116.7,370.9 L1118.1,369.9 L1119.5,368.8 L1121.0,367.7 L1122.4,366.5 L1123.8,365.3 L1125.2,364.0 L1126.6,362.6 L1128.0,361.2 L1129.5,359.8 L1130.9,358.3 L1132.3,356.7 L1133.7,355.1 L1135.1,353.5 L1136.5,351.8 L1138.0,350.0 L1139.4,348.2 L1140.8,346.3 L1142.2,344.4 L1143.6,342.4 L1145.0,340.4 L1146.5,338.3 L1147.9,336.2 L1149.3,334.0 L1150.7,331.8 L1152.1,329.5 L1153.5,327.2 L1155.0,324.8 L1156.4,322.3 L1157.8,319.8 L1159.2,317.3 L1160.6,314.7 L1162.0,312.0 L1163.5,309.3 L1164.9,306.5 L1166.3,303.7 L1167.7,300.9 L1169.1,298.0 L1170.5,295.0 L1172.0,292.0 L1173.4,288.9 L1174.8,285.8" stroke="#c01fd6" stroke-width="4"/>
<path d="M994.8,290.1 L996.4,293.1 L998.0,296.1 L999.5,299.1 L1001.1,302.0 L1002.7,305.0 L1004.3,307.9 L1005.9,310.8 L1007.5,313.8 L1009.0,316.7 L1010.6,319.6 L1012.2,322.4 L1013.8,325.3 L1015.4,328.2 L1017.0,331.0 L1018.5,333.8 L1020.1,336.6 L1021.7,339.4 L1023.3,342.2 L1024.9,345.0 L1026.5,347.7 L1028.0,350.4 L1029.6,353.1 L1031.2,355.8 L1032.8,358.4 L1034.4,361.1 L1036.0,363.7 L1037.5,366.2 L1039.1,368.8 L1040.7,371.3 L1042.3,373.8 L1043.9,376.2 L1045.5,378.6 L1047.0,381.0 L1048.6,383.3 L1050.2,385.6 L1051.8,387.8 L1053.4,390.0 L1055.0,392.1 L1056.5,394.1 L1058.1,396.2 L1059.7,398.1 L1061.3,400.0 L1062.9,401.8 L1064.5,403.5 L1066.0,405.2 L1067.6,406.8 L1069.2,408.3 L1070.8,409.7 L1072.4,411.0 L1074.0,412.2 L1075.5,413.3 L1077.1,414.3 L1078.7,415.2 L1080.3,416.0 L1081.9,416.7 L1083.5,417.2 L1085.0,417.6 L1086.6,418.0 L1088.2,418.1 L1089.8,418.2 L1091.4,418.1 L1093.0,418.0 L1094.5,417.6 L1096.1,417.2 L1097.7,416.7 L1099.3,416.0 L1100.9,415.2 L1102.5,414.3 L1104.0,413.3 L1105.6,412.2 L1107.2,411.0 L1108.8,409.7 L1110.4,408.3 L1112.0,406.8 L1113.5,405.2 L1115.1,403.5 L1116.7,401.8 L1118.3,400.0 L1119.9,398.1 L1121.5,396.2 L1123.0,394.1 L1124.6,392.1 L1126.2,390.0 L1127.8,387.8 L1129.4,385.6 L1131.0,383.3 L1132.5,381.0 L1134.1,378.6 L1135.7,376.2 L1137.3,373.8 L1138.9,371.3 L1140.5,368.8 L1142.0,366.2 L1143.6,363.7 L1145.2,361.1 L1146.8,358.4 L1148.4,355.8 L1150.0,353.1 L1151.5,350.4 L1153.1,347.7 L1154.7,345.0 L1156.3,342.2 L1157.9,339.4 L1159.5,336.6 L1161.0,333.8 L1162.6,331.0 L1164.2,328.2 L1165.8,325.3 L1167.4,322.4 L1169.0,319.6 L1170.5,316.7 L1172.1,313.8 L1173.7,310.8 L1175.3,307.9 L1176.9,305.0 L1178.5,302.0 L1180.0,299.1 L1181.6,296.1 L1183.2,293.1 L1184.8,290.1" stroke="#c01fd6" stroke-width="4"/>
</g>
<line x1="834.1" y1="514.8" x2="1346.6" y2="514.8" stroke="#000" stroke-width="4.4" stroke-dasharray="31.6 13.7" stroke-dashoffset="0"/>
<line x1="1091.4" y1="300.6" x2="1091.4" y2="732.5" stroke="#000" stroke-width="5"/>
<rect x="159" y="299.4" width="508" height="432" fill="none" stroke="#000" stroke-width="4.3"/>
<rect x="834.1" y="300.6" width="512.5" height="431.9" fill="none" stroke="#000" stroke-width="5"/>
<line x1="159" y1="411.6" x2="169.3" y2="411.6" stroke="#000" stroke-width="5"/>
<line x1="159" y1="627.5" x2="169.3" y2="627.5" stroke="#000" stroke-width="5"/>
<line x1="834" y1="406.2" x2="846" y2="406.2" stroke="#000" stroke-width="5"/>
<line x1="834" y1="622.4" x2="846" y2="622.4" stroke="#000" stroke-width="5"/>
<text x="85.76" y="314.70" font-family="Liberation Sans, sans-serif" font-size="47.43" textLength="65.19" lengthAdjust="spacingAndGlyphs" >2.0</text>
<text x="88.43" y="417.90" font-family="Liberation Sans, sans-serif" font-size="47.43" textLength="62.45" lengthAdjust="spacingAndGlyphs" >1.0</text>
<text x="86.87" y="527.40" font-family="Liberation Sans, sans-serif" font-size="48.29" textLength="63.75" lengthAdjust="spacingAndGlyphs" >0.0</text>
<text x="74.24" y="636.00" font-family="Liberation Sans, sans-serif" font-size="47.29" textLength="78.81" lengthAdjust="spacingAndGlyphs" >-1.0</text>
<text x="74.23" y="745.00" font-family="Liberation Sans, sans-serif" font-size="47.43" textLength="79.44" lengthAdjust="spacingAndGlyphs" >-2.0</text>
<text x="165.16" y="342.20" font-family="Liberation Sans, sans-serif" font-size="45.14" textLength="98.67" lengthAdjust="spacingAndGlyphs" >Sn 5s</text>
<text x="161.11" y="594.30" font-family="Liberation Sans, sans-serif" font-size="44.43" textLength="90.99" lengthAdjust="spacingAndGlyphs" >O 2p</text>
<text x="842.87" y="342.60" font-family="Liberation Sans, sans-serif" font-size="45.14" textLength="98.57" lengthAdjust="spacingAndGlyphs" >Sn 5s</text>
<text x="847.61" y="632.90" font-family="Liberation Sans, sans-serif" font-size="44.86" textLength="90.89" lengthAdjust="spacingAndGlyphs" >O 2p</text>
<text x="482.78" y="339.10" font-family="Liberation Sans, sans-serif" font-size="49.79" textLength="93.59" lengthAdjust="spacingAndGlyphs" fill="#c01fd6">bulk</text>
<text x="439.16" y="496.80" font-family="Liberation Sans, sans-serif" font-size="49.79" textLength="168.11" lengthAdjust="spacingAndGlyphs" fill="#858514">surface</text>
<text x="1110.38" y="455.00" font-family="Liberation Sans, sans-serif" font-size="49.10" textLength="93.80" lengthAdjust="spacingAndGlyphs" fill="#c01fd6">bulk</text>
<text x="1174.07" y="346.10" font-family="Liberation Sans, sans-serif" font-size="50.48" textLength="167.60" lengthAdjust="spacingAndGlyphs" fill="#858514">surface</text>
<text x="154.67" y="785.30" font-family="Liberation Sans, sans-serif" font-size="53.19" textLength="35.61" lengthAdjust="spacingAndGlyphs" >X</text>
<text x="638.36" y="785.60" font-family="Liberation Sans, sans-serif" font-size="53.04" textLength="35.72" lengthAdjust="spacingAndGlyphs" >X</text>
<text x="828.49" y="785.30" font-family="Liberation Sans, sans-serif" font-size="53.19" textLength="35.07" lengthAdjust="spacingAndGlyphs" >X</text>
<text x="1312.00" y="785.60" font-family="Liberation Sans, sans-serif" font-size="53.04" textLength="34.64" lengthAdjust="spacingAndGlyphs" >X</text>
<text x="397.90" y="784.90" font-family="Liberation Serif, serif" font-size="51.76" textLength="32.78" lengthAdjust="spacingAndGlyphs" >Γ</text>
<text x="1072.31" y="784.90" font-family="Liberation Serif, serif" font-size="51.76" textLength="32.55" lengthAdjust="spacingAndGlyphs" >Γ</text>
<g transform="rotate(-90)"><text x="-633.76" y="48.90" font-family="Liberation Sans, sans-serif" font-size="53.19" textLength="84.60" lengthAdjust="spacingAndGlyphs" >E-E</text><text x="-547.44" y="65.70" font-family="Liberation Sans, sans-serif" font-size="30.00" textLength="17.08" lengthAdjust="spacingAndGlyphs" >F</text><text x="-503.91" y="49.20" font-family="Liberation Sans, sans-serif" font-size="53.34" textLength="98.05" lengthAdjust="spacingAndGlyphs" >(eV)</text></g></svg></body></html>
